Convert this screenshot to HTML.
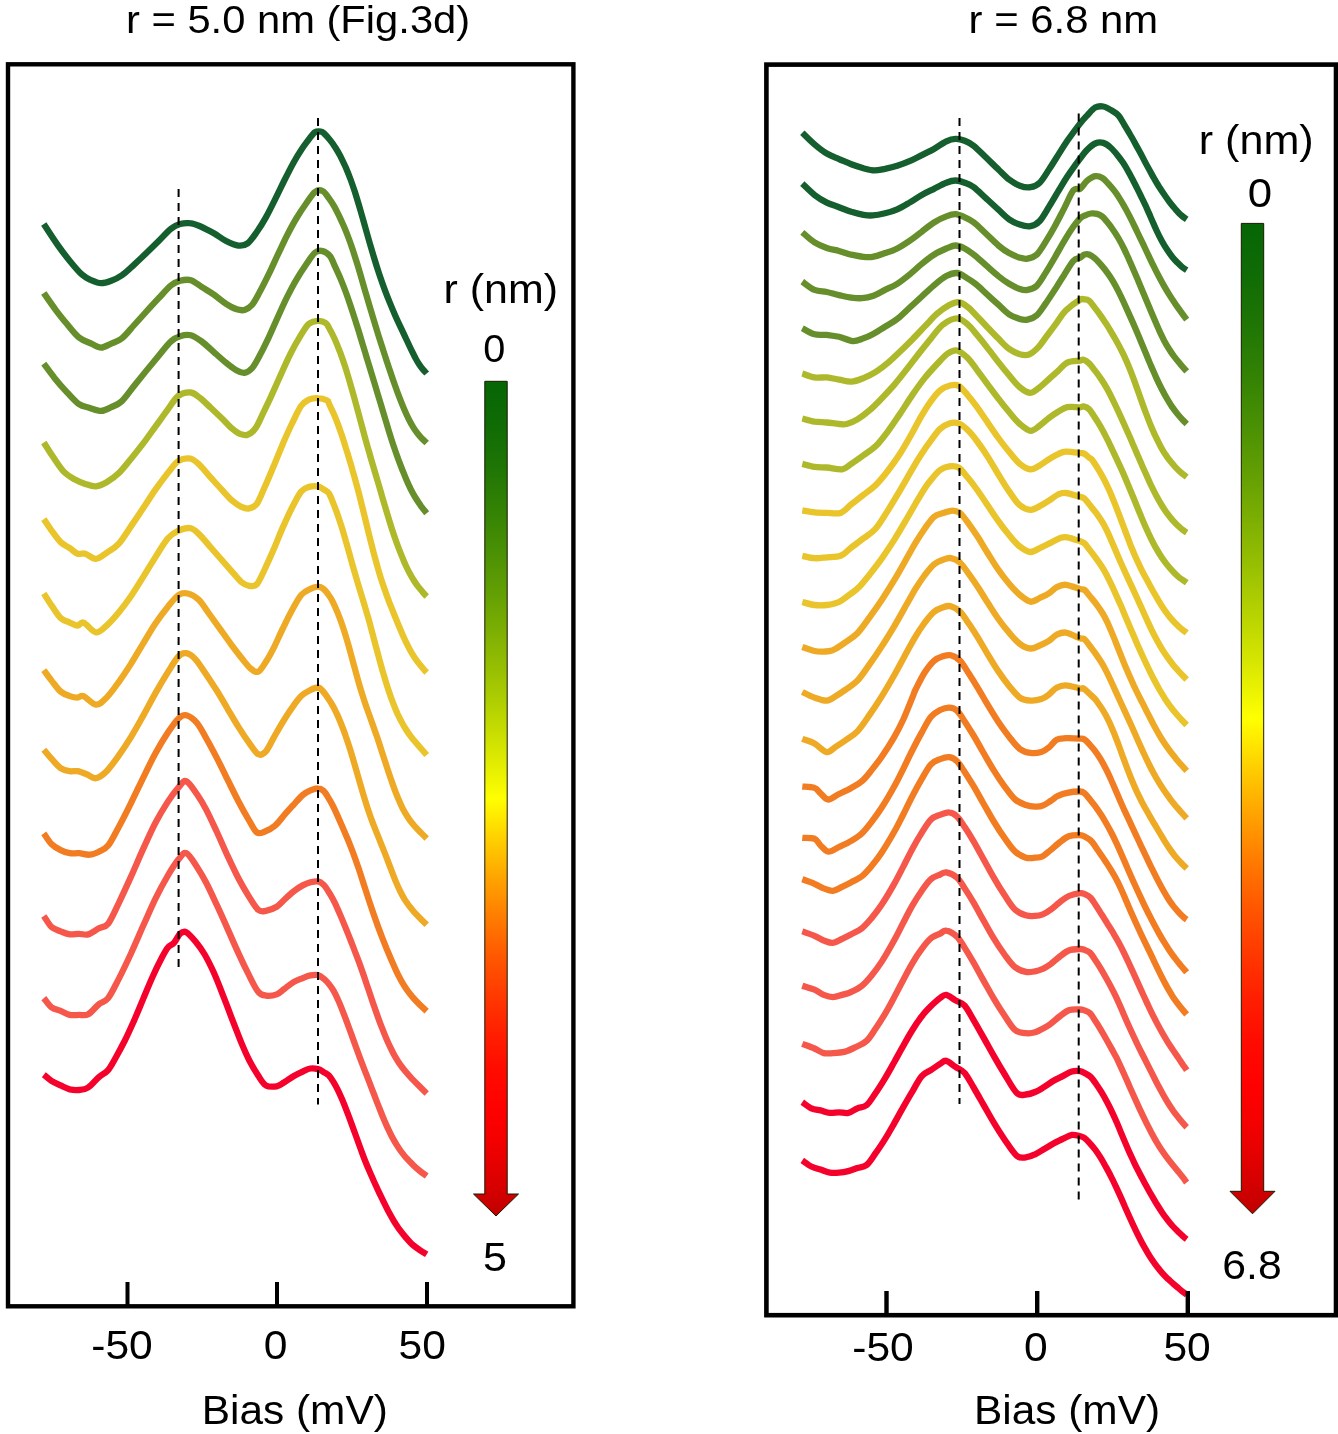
<!DOCTYPE html>
<html lang="en"><head><meta charset="utf-8"><title>dI/dV spectra</title>
<style>html,body{margin:0;padding:0;background:#fff}svg{display:block}</style></head><body>
<svg width="1338" height="1434" viewBox="0 0 1338 1434">
<defs><linearGradient id="cb" x1="0" y1="0" x2="0" y2="1"><stop offset="0.0000" stop-color="#066605"/><stop offset="0.0500" stop-color="#0f6b05"/><stop offset="0.1000" stop-color="#1e7505"/><stop offset="0.1500" stop-color="#318104"/><stop offset="0.2000" stop-color="#488f04"/><stop offset="0.2500" stop-color="#619e03"/><stop offset="0.3000" stop-color="#7daf03"/><stop offset="0.3500" stop-color="#9ac102"/><stop offset="0.4000" stop-color="#bad501"/><stop offset="0.4500" stop-color="#dce901"/><stop offset="0.5000" stop-color="#ffff00"/><stop offset="0.5466" stop-color="#ffd100"/><stop offset="0.5933" stop-color="#ffa600"/><stop offset="0.6399" stop-color="#ff7e00"/><stop offset="0.6865" stop-color="#ff5a00"/><stop offset="0.7331" stop-color="#ff3b00"/><stop offset="0.7797" stop-color="#ff2000"/><stop offset="0.8264" stop-color="#ff0b00"/><stop offset="0.8730" stop-color="#ff0000"/><stop offset="0.9047" stop-color="#f60000"/><stop offset="0.9365" stop-color="#e70000"/><stop offset="0.9683" stop-color="#d50000"/><stop offset="1.0000" stop-color="#c00000"/></linearGradient></defs>
<rect width="1338" height="1434" fill="#fff"/>
<g fill="none" stroke-width="6.3" stroke-linejoin="round" stroke-linecap="butt">
<path d="M43.8 224.1C46.1 227.6 53.2 238.7 57.6 244.9C61.9 251.0 65.7 256.0 69.8 260.9C73.9 265.9 78.5 271.5 82.1 274.7C85.7 277.9 88.1 278.7 91.3 280.2C94.5 281.6 97.8 283.1 101.1 283.2C104.4 283.3 107.7 282.1 111.2 280.8C114.7 279.5 118.1 278.0 121.9 275.3C125.8 272.6 130.1 268.3 134.2 264.6C138.3 260.8 142.4 257.0 146.4 253.1C150.5 249.1 154.6 245.0 158.7 241.0C162.8 236.9 167.4 231.5 171.0 228.7C174.5 225.9 177.1 225.0 180.1 224.1C183.2 223.2 186.0 222.8 189.3 223.2C192.7 223.5 196.0 224.6 200.1 226.2C204.2 227.9 209.5 230.8 213.9 233.3C218.2 235.7 222.0 238.9 226.1 241.0C230.2 243.0 234.8 245.1 238.4 245.6C241.9 246.0 244.5 245.7 247.6 243.4C250.6 241.2 253.7 236.4 256.8 232.0C259.8 227.7 262.9 222.8 265.9 217.4C269.0 211.9 272.1 205.5 275.1 199.4C278.2 193.2 281.3 186.6 284.3 180.5C287.4 174.3 290.7 167.8 293.5 162.7C296.3 157.7 298.6 153.9 301.2 150.0C303.7 146.1 306.6 142.4 308.8 139.4C311.1 136.4 312.9 133.5 315.0 132.2C317.0 130.9 319.5 131.3 321.1 131.6C322.7 131.8 323.0 132.5 324.5 133.9C326.0 135.3 328.1 137.6 329.9 139.9C331.7 142.1 333.5 144.5 335.2 147.3C337.0 150.1 338.8 153.3 340.6 156.6C342.3 160.0 344.0 163.6 345.7 167.3C347.3 171.1 348.9 175.0 350.4 179.0C351.9 183.0 353.3 187.2 354.7 191.3C356.0 195.5 357.3 199.7 358.5 203.8C359.8 207.9 360.9 212.0 362.1 216.1C363.3 220.2 364.4 224.2 365.6 228.5C366.8 232.8 368.0 237.1 369.4 242.0C370.8 246.8 372.4 252.2 374.0 257.5C375.6 262.9 377.4 268.6 379.2 273.9C381.0 279.2 382.8 284.4 384.6 289.3C386.4 294.2 388.2 298.7 390.0 303.1C391.8 307.5 393.5 311.6 395.3 315.7C397.1 319.7 398.9 323.6 400.7 327.4C402.5 331.2 404.3 335.1 406.0 338.7C407.7 342.3 409.4 345.9 410.9 349.0C412.5 352.2 413.8 355.1 415.2 357.6C416.5 360.1 417.8 362.3 419.1 364.3C420.3 366.2 421.6 367.9 422.9 369.4C424.2 370.9 426.1 372.8 426.7 373.5" stroke="#145f2d"/>
<path d="M43.8 293.0C45.8 295.9 52.2 305.2 56.0 310.3C59.9 315.4 62.9 319.3 66.8 323.8C70.6 328.4 74.9 334.2 79.0 337.5C83.1 340.8 87.6 341.9 91.3 343.6C95.0 345.3 97.8 347.6 101.1 347.6C104.4 347.6 107.7 345.1 111.2 343.6C114.7 342.1 118.1 341.5 121.9 338.4C125.8 335.3 130.1 329.5 134.2 325.0C138.3 320.5 142.4 316.0 146.4 311.5C150.5 307.0 154.6 302.6 158.7 298.2C162.8 293.9 167.4 288.3 171.0 285.4C174.5 282.5 176.8 281.7 180.1 280.8C183.5 279.9 187.3 279.2 190.9 280.2C194.4 281.2 197.8 284.5 201.6 286.9C205.4 289.3 209.8 291.8 213.9 294.6C217.9 297.4 222.3 301.3 226.1 303.8C229.9 306.2 233.8 308.3 236.8 309.3C239.9 310.3 241.9 310.7 244.5 309.9C247.1 309.1 249.6 307.7 252.2 304.7C254.7 301.7 257.0 297.0 259.8 291.8C262.6 286.7 265.9 280.1 269.0 273.7C272.1 267.4 275.1 260.4 278.2 253.9C281.3 247.4 284.3 240.7 287.4 234.7C290.5 228.7 293.5 223.1 296.6 218.0C299.7 212.9 302.7 208.3 305.8 204.0C308.8 199.7 312.2 194.1 315.0 191.9C317.8 189.8 320.3 189.9 322.6 191.0C325.0 192.1 327.1 195.9 329.0 198.4C330.9 201.0 332.5 203.4 334.2 206.3C335.8 209.3 337.5 212.7 339.1 215.9C340.6 219.1 342.1 222.4 343.5 225.6C344.9 228.7 346.1 231.6 347.4 234.9C348.7 238.3 349.9 241.5 351.3 245.5C352.6 249.5 354.1 254.0 355.6 258.8C357.2 263.6 358.8 269.0 360.3 274.2C361.8 279.3 363.3 284.6 364.8 289.8C366.3 294.9 367.8 300.1 369.3 305.1C370.8 310.2 372.3 315.3 373.8 320.2C375.3 325.1 376.8 330.0 378.2 334.6C379.7 339.2 381.1 343.6 382.5 348.0C383.9 352.3 385.2 356.4 386.6 360.7C388.0 364.9 389.4 369.2 390.9 373.4C392.3 377.7 393.8 382.0 395.3 386.2C396.8 390.4 398.3 394.5 399.8 398.4C401.3 402.3 402.8 406.1 404.3 409.5C405.8 413.0 407.3 416.3 408.8 419.2C410.3 422.2 411.8 424.9 413.3 427.3C414.8 429.7 416.3 431.8 417.8 433.7C419.3 435.6 420.7 437.2 422.2 438.8C423.7 440.3 426.0 442.3 426.7 443.0" stroke="#668f2c"/>
<path d="M43.8 363.7C45.6 366.1 50.7 373.2 54.5 377.9C58.3 382.7 62.7 387.7 66.8 392.1C70.9 396.4 75.2 401.6 79.0 404.2C82.9 406.8 86.1 406.7 89.8 407.9C93.4 409.0 97.5 411.0 101.1 410.9C104.7 410.8 107.7 408.9 111.2 407.2C114.7 405.6 118.1 404.7 121.9 401.1C125.8 397.5 130.1 390.9 134.2 385.8C138.3 380.7 142.4 375.6 146.4 370.6C150.5 365.6 154.6 360.6 158.7 355.7C162.8 350.9 167.4 344.6 171.0 341.4C174.5 338.1 176.8 337.2 180.1 336.2C183.5 335.1 187.3 334.4 190.9 335.2C194.4 336.1 197.8 338.6 201.6 341.4C205.4 344.2 209.8 348.5 213.9 352.1C217.9 355.7 222.3 359.8 226.1 362.8C229.9 365.9 233.8 368.8 236.8 370.5C239.9 372.2 241.9 373.3 244.5 372.9C247.1 372.5 249.6 371.0 252.2 368.0C254.7 365.1 257.0 360.5 259.8 355.3C262.6 350.1 265.9 343.3 269.0 336.8C272.1 330.3 275.1 323.0 278.2 316.2C281.3 309.5 284.3 302.5 287.4 296.4C290.5 290.2 293.5 284.5 296.6 279.3C299.7 274.1 302.7 269.5 305.8 265.0C308.8 260.6 312.2 254.9 315.0 252.6C317.8 250.3 320.2 250.5 322.6 251.1C325.1 251.7 327.8 253.5 329.9 256.1C332.0 258.7 333.5 263.2 335.2 266.9C336.9 270.5 338.6 274.3 340.3 278.1C341.9 282.0 343.5 285.9 345.0 290.0C346.6 294.2 348.1 298.4 349.6 302.9C351.1 307.3 352.6 311.9 354.1 316.6C355.6 321.2 357.1 326.0 358.6 330.8C360.0 335.6 361.5 340.4 362.9 345.2C364.4 349.9 365.8 354.7 367.2 359.4C368.7 364.1 370.1 368.8 371.5 373.4C372.9 377.9 374.2 382.4 375.6 386.9C376.9 391.4 378.2 395.7 379.6 400.1C380.9 404.4 382.1 408.7 383.4 412.9C384.6 417.0 385.9 421.1 387.1 425.1C388.2 429.0 389.4 432.8 390.6 436.6C391.8 440.4 393.0 444.2 394.3 447.9C395.5 451.6 396.9 455.4 398.2 459.0C399.6 462.7 400.9 466.3 402.3 469.7C403.7 473.2 405.0 476.5 406.4 479.8C407.8 483.0 409.2 486.1 410.7 489.2C412.2 492.2 413.8 495.1 415.5 497.8C417.2 500.6 419.0 503.2 420.8 505.8C422.7 508.3 425.7 512.0 426.7 513.2" stroke="#668f2c"/>
<path d="M43.8 442.5C45.3 444.9 49.7 451.9 53.0 456.8C56.3 461.6 60.1 467.9 63.7 471.6C67.3 475.3 70.9 477.2 74.4 479.3C78.0 481.3 81.6 482.7 85.2 483.9C88.7 485.0 92.3 486.6 95.9 486.3C99.5 486.1 102.8 484.5 106.6 482.3C110.4 480.1 114.8 477.1 118.9 473.1C122.9 469.2 127.0 463.7 131.1 458.7C135.2 453.7 139.3 448.6 143.4 443.2C147.5 437.8 151.5 431.9 155.6 426.3C159.7 420.7 164.1 414.5 167.9 409.4C171.7 404.3 174.8 398.4 178.6 395.6C182.4 392.8 187.3 392.1 190.9 392.5C194.4 392.9 196.7 395.5 200.1 398.1C203.4 400.6 207.2 404.5 210.8 407.8C214.4 411.2 217.9 414.6 221.5 418.1C225.1 421.5 229.2 426.1 232.2 428.7C235.3 431.3 237.3 432.9 239.9 433.9C242.5 434.9 245.0 435.7 247.6 434.8C250.1 434.0 252.7 432.2 255.2 428.7C257.8 425.2 260.1 419.4 262.9 413.7C265.7 407.9 269.0 400.9 272.1 394.2C275.1 387.6 278.2 380.4 281.3 373.6C284.3 366.9 287.4 359.9 290.5 353.8C293.5 347.7 296.6 342.1 299.7 337.1C302.7 332.1 305.8 326.6 308.8 323.9C311.9 321.2 315.2 321.0 318.0 320.8C320.9 320.7 323.7 321.5 325.7 323.0C327.7 324.4 328.5 327.1 329.9 329.5C331.3 332.0 332.7 334.7 334.0 337.5C335.3 340.3 336.6 343.3 337.7 346.2C338.9 349.0 339.9 351.7 341.0 354.6C342.0 357.5 343.0 360.3 344.1 363.6C345.2 366.9 346.4 370.6 347.6 374.6C348.8 378.6 350.1 383.0 351.3 387.3C352.6 391.6 353.8 396.1 355.0 400.5C356.2 404.9 357.4 409.4 358.6 413.8C359.8 418.3 361.0 422.7 362.2 427.1C363.4 431.5 364.5 435.8 365.7 440.1C366.9 444.5 368.1 448.6 369.4 453.0C370.6 457.4 371.9 461.8 373.3 466.5C374.7 471.3 376.2 476.4 377.8 481.6C379.3 486.8 381.0 492.5 382.5 497.8C384.1 503.2 385.7 508.6 387.2 513.7C388.8 518.8 390.2 523.6 391.7 528.3C393.2 532.9 394.7 537.3 396.2 541.5C397.7 545.7 399.2 549.7 400.7 553.4C402.2 557.2 403.7 560.7 405.1 564.0C406.6 567.2 408.0 570.2 409.5 572.9C410.9 575.7 412.4 578.2 413.9 580.5C415.3 582.8 416.9 585.0 418.4 586.9C419.9 588.8 421.4 590.5 422.7 592.1C424.1 593.7 426.0 595.8 426.7 596.5" stroke="#adb92b"/>
<path d="M43.8 519.1C45.1 521.0 48.6 526.5 51.4 530.4C54.3 534.2 57.6 539.1 60.6 542.1C63.7 545.0 67.0 546.3 69.8 548.2C72.6 550.1 74.9 552.8 77.5 553.7C80.0 554.6 82.1 552.9 85.2 553.7C88.2 554.6 92.3 559.1 95.9 558.9C99.5 558.8 102.8 555.4 106.6 552.8C110.4 550.2 114.8 548.1 118.9 543.6C122.9 539.2 127.0 532.1 131.1 526.1C135.2 520.1 139.3 513.9 143.4 507.8C147.5 501.7 151.5 495.2 155.6 489.4C159.7 483.6 164.1 477.7 167.9 472.9C171.7 468.2 174.8 463.2 178.6 460.9C182.4 458.5 187.3 458.0 190.9 458.7C194.4 459.5 196.7 462.3 200.1 465.5C203.4 468.6 207.2 473.6 210.8 477.6C214.4 481.6 217.9 485.6 221.5 489.4C225.1 493.3 228.9 497.8 232.2 500.7C235.6 503.6 238.6 505.6 241.4 506.8C244.2 508.1 246.5 508.9 249.1 508.4C251.6 507.9 254.2 507.2 256.8 503.8C259.3 500.3 261.6 494.0 264.4 487.7C267.2 481.5 270.5 473.6 273.6 466.3C276.7 459.0 279.7 451.0 282.8 443.9C285.9 436.8 288.9 429.9 292.0 423.5C295.1 417.2 298.4 409.7 301.2 405.7C304.0 401.7 306.0 400.9 308.8 399.6C311.7 398.3 315.0 397.9 318.0 398.1C321.1 398.2 325.4 399.6 327.2 400.5C329.1 401.4 328.0 401.5 329.0 403.7C330.0 405.8 332.0 409.8 333.5 413.2C335.0 416.6 336.5 420.3 337.9 424.1C339.3 427.9 340.7 432.0 342.1 436.0C343.4 440.0 344.7 444.1 345.9 448.1C347.2 452.1 348.4 456.0 349.5 459.9C350.7 463.8 351.8 467.5 352.9 471.6C354.1 475.6 355.2 479.6 356.4 484.2C357.7 488.7 359.0 493.8 360.3 499.0C361.6 504.2 363.0 510.0 364.4 515.5C365.7 521.0 367.1 526.7 368.4 532.1C369.8 537.6 371.1 543.0 372.5 548.2C373.8 553.4 375.2 558.5 376.5 563.3C377.8 568.1 379.2 572.7 380.5 577.1C381.9 581.5 383.2 585.5 384.7 589.6C386.1 593.8 387.6 597.7 389.1 601.8C390.7 605.8 392.4 610.0 394.0 614.0C395.6 618.0 397.2 622.0 398.8 625.8C400.4 629.5 401.9 633.1 403.4 636.5C404.9 639.9 406.4 643.1 408.0 646.1C409.5 649.1 411.1 652.0 412.7 654.6C414.3 657.1 415.9 659.5 417.5 661.7C419.1 663.8 420.6 665.7 422.2 667.5C423.7 669.3 425.9 671.8 426.7 672.6" stroke="#e9c42a"/>
<path d="M43.8 593.5C45.1 595.4 48.6 601.2 51.4 605.3C54.3 609.4 57.6 615.1 60.6 618.0C63.7 620.9 67.0 621.3 69.8 622.6C72.6 623.8 75.2 625.6 77.5 625.6C79.8 625.6 80.6 621.4 83.6 622.6C86.7 623.7 92.1 631.9 95.9 632.4C99.7 632.9 102.8 629.0 106.6 625.6C110.4 622.3 114.8 617.3 118.9 612.3C122.9 607.4 127.0 601.9 131.1 596.0C135.2 590.0 139.3 583.1 143.4 576.6C147.5 570.1 151.5 563.3 155.6 556.9C159.7 550.5 164.1 542.7 167.9 538.3C171.7 533.9 174.8 532.3 178.6 530.6C182.4 529.0 187.3 527.4 190.9 528.2C194.4 529.0 196.7 532.0 200.1 535.2C203.4 538.5 207.2 543.4 210.8 547.5C214.4 551.6 217.9 555.7 221.5 559.7C225.1 563.8 228.9 568.1 232.2 571.9C235.6 575.6 238.6 579.8 241.4 582.1C244.2 584.4 246.5 585.4 249.1 585.8C251.6 586.2 254.2 586.9 256.8 584.3C259.3 581.6 261.6 575.8 264.4 570.0C267.2 564.2 270.5 556.7 273.6 549.6C276.7 542.5 279.7 534.4 282.8 527.4C285.9 520.4 288.9 513.7 292.0 507.7C295.1 501.7 298.4 495.0 301.2 491.5C304.0 488.1 306.0 487.8 308.8 486.9C311.7 486.1 315.6 485.9 318.0 486.3C320.5 486.7 321.8 488.2 323.6 489.4C325.4 490.6 327.4 491.1 329.0 493.5C330.6 495.9 332.0 500.2 333.5 503.9C335.0 507.5 336.5 511.4 337.9 515.5C339.3 519.6 340.7 524.0 342.1 528.3C343.4 532.6 344.7 537.0 345.9 541.4C347.2 545.7 348.4 550.1 349.6 554.4C350.8 558.7 352.0 563.1 353.2 567.3C354.4 571.5 355.6 575.6 356.8 579.6C357.9 583.6 359.1 587.3 360.3 591.3C361.5 595.3 362.7 599.1 364.0 603.5C365.3 607.9 366.8 612.8 368.2 617.7C369.6 622.6 371.0 628.0 372.4 633.2C373.8 638.4 375.1 643.6 376.5 648.7C377.9 653.8 379.2 658.9 380.6 663.8C381.9 668.7 383.3 673.6 384.8 678.3C386.2 683.0 387.6 687.7 389.1 691.9C390.5 696.2 392.0 700.3 393.4 703.9C394.8 707.5 396.1 710.7 397.4 713.6C398.8 716.5 399.9 718.9 401.3 721.4C402.6 723.9 403.9 726.2 405.4 728.5C406.8 730.8 408.4 733.1 410.0 735.3C411.7 737.6 413.4 739.7 415.2 741.8C417.0 744.0 418.8 746.1 420.8 748.3C422.7 750.5 425.7 753.9 426.7 755.0" stroke="#e9c42a"/>
<path d="M43.8 670.1C45.1 671.8 48.6 676.9 51.4 680.4C54.3 684.0 57.6 688.9 60.6 691.5C63.7 694.1 67.0 695.1 69.8 696.1C72.6 697.1 75.2 697.6 77.5 697.6C79.8 697.6 80.6 694.9 83.6 696.1C86.7 697.3 92.1 704.4 95.9 704.7C99.7 704.9 102.8 701.5 106.6 697.6C110.4 693.8 114.8 687.5 118.9 681.8C122.9 676.2 127.0 670.0 131.1 663.6C135.2 657.1 139.3 649.8 143.4 643.1C147.5 636.3 151.5 629.3 155.6 623.2C159.7 617.2 164.1 611.4 167.9 606.7C171.7 602.0 175.3 597.2 178.6 595.0C181.9 592.8 184.5 592.7 187.8 593.5C191.1 594.2 195.0 596.2 198.5 599.6C202.1 603.0 205.7 609.1 209.3 614.0C212.8 618.8 216.4 623.8 220.0 628.8C223.6 633.8 227.1 638.9 230.7 643.8C234.3 648.6 238.1 653.6 241.4 657.8C244.8 661.9 247.8 666.2 250.6 668.5C253.4 670.8 255.7 672.7 258.3 671.6C260.8 670.5 263.4 665.7 265.9 661.8C268.5 657.9 270.8 653.7 273.6 648.1C276.4 642.6 279.7 634.8 282.8 628.5C285.9 622.2 288.9 615.9 292.0 610.3C295.1 604.7 298.1 598.6 301.2 595.0C304.3 591.4 307.6 590.2 310.4 588.9C313.2 587.5 315.8 586.7 318.0 586.7C320.2 586.7 321.8 587.5 323.6 589.0C325.4 590.5 327.6 593.5 329.0 595.5C330.4 597.4 330.9 598.1 332.3 600.9C333.7 603.7 335.8 608.3 337.5 612.4C339.2 616.5 340.8 620.8 342.3 625.3C343.8 629.7 345.3 634.4 346.7 639.2C348.2 644.0 349.5 649.1 350.9 654.1C352.3 659.1 353.6 664.3 355.0 669.2C356.3 674.1 357.7 679.0 359.0 683.6C360.3 688.3 361.7 692.6 363.1 696.9C364.4 701.2 365.8 705.2 367.3 709.5C368.8 713.7 370.4 718.0 372.0 722.6C373.6 727.1 375.3 732.0 377.0 736.8C378.6 741.6 380.2 746.6 381.8 751.4C383.4 756.2 384.9 761.0 386.4 765.6C387.9 770.2 389.4 774.7 390.9 779.0C392.4 783.3 393.8 787.5 395.3 791.4C396.8 795.3 398.3 799.0 399.9 802.4C401.4 805.9 403.0 809.1 404.6 812.0C406.3 815.0 408.0 817.6 409.8 820.1C411.5 822.5 413.3 824.6 415.1 826.7C417.0 828.8 418.8 830.7 420.8 832.6C422.7 834.6 425.7 837.4 426.7 838.4" stroke="#eeaa25"/>
<path d="M43.8 749.7C45.1 751.2 48.6 755.6 51.4 758.7C54.3 761.8 57.6 766.0 60.6 768.1C63.7 770.2 67.0 770.7 69.8 771.2C72.6 771.7 74.7 770.7 77.5 771.2C80.3 771.7 83.6 773.1 86.7 774.3C89.8 775.4 92.6 778.7 95.9 778.2C99.2 777.7 102.8 775.0 106.6 771.2C110.4 767.4 114.8 761.1 118.9 755.4C122.9 749.7 127.0 743.6 131.1 736.9C135.2 730.2 139.3 722.7 143.4 715.4C147.5 708.0 151.5 700.1 155.6 692.9C159.7 685.7 164.1 678.3 167.9 672.2C171.7 666.1 175.6 659.4 178.6 656.3C181.7 653.1 183.5 652.7 186.3 653.2C189.1 653.7 192.2 655.8 195.5 659.3C198.8 662.9 202.6 669.1 206.2 674.4C209.8 679.6 213.3 685.1 216.9 690.8C220.5 696.6 224.1 702.8 227.6 708.8C231.2 714.9 234.8 721.2 238.4 726.9C241.9 732.5 245.8 738.3 249.1 742.8C252.4 747.4 255.5 752.9 258.3 754.3C261.1 755.7 263.4 754.0 265.9 751.3C268.5 748.5 270.8 742.8 273.6 737.9C276.4 733.0 279.7 727.0 282.8 722.0C285.9 716.9 288.9 712.1 292.0 707.8C295.1 703.5 298.1 699.1 301.2 696.1C304.3 693.1 307.6 691.4 310.4 690.0C313.2 688.6 316.0 687.4 318.0 687.5C320.1 687.7 321.2 689.4 322.7 691.0C324.2 692.6 325.7 694.7 327.2 696.9C328.7 699.0 330.2 701.3 331.7 703.9C333.2 706.5 334.7 709.3 336.2 712.5C337.8 715.7 339.3 719.3 340.9 723.2C342.5 727.1 344.2 731.5 345.7 736.1C347.3 740.6 348.9 745.5 350.4 750.3C351.9 755.2 353.4 760.2 354.8 765.1C356.2 769.9 357.6 774.8 359.0 779.6C360.3 784.3 361.7 789.0 363.0 793.5C364.4 798.1 365.7 802.5 367.1 806.7C368.5 810.9 369.8 814.9 371.3 818.9C372.7 822.9 374.2 826.7 375.8 830.6C377.4 834.6 379.1 838.6 380.7 842.8C382.4 847.0 384.2 851.5 385.9 855.8C387.6 860.1 389.2 864.6 390.8 868.7C392.3 872.8 393.8 876.7 395.3 880.4C396.8 884.0 398.3 887.4 399.9 890.6C401.4 893.8 403.0 896.7 404.6 899.4C406.3 902.0 408.0 904.5 409.8 906.7C411.5 909.0 413.3 911.1 415.1 913.1C417.0 915.1 418.8 917.0 420.8 919.0C422.7 920.9 425.7 923.8 426.7 924.8" stroke="#eeaa25"/>
<path d="M43.8 833.3C45.1 835.1 48.6 841.2 51.4 844.0C54.3 846.8 57.6 848.6 60.6 850.1C63.7 851.7 66.8 852.7 69.8 853.2C72.9 853.7 75.7 853.0 79.0 853.2C82.3 853.5 86.4 855.0 89.8 854.7C93.1 854.5 95.9 853.2 98.9 851.7C102.0 850.1 104.8 849.7 108.1 845.6C111.5 841.4 115.0 833.8 118.9 826.7C122.7 819.6 127.0 811.1 131.1 802.8C135.2 794.6 139.3 785.6 143.4 777.3C147.5 769.0 151.5 760.4 155.6 752.9C159.7 745.5 164.1 738.4 167.9 732.6C171.7 726.8 175.6 721.3 178.6 718.4C181.7 715.5 183.2 714.6 186.3 715.3C189.3 716.1 193.7 719.2 197.0 723.0C200.3 726.8 202.9 732.4 206.2 738.3C209.5 744.1 213.3 751.2 216.9 758.1C220.5 765.0 224.1 772.5 227.6 779.7C231.2 786.9 234.8 794.4 238.4 801.2C241.9 808.0 246.0 815.3 249.1 820.5C252.2 825.7 254.2 830.5 256.8 832.4C259.3 834.3 261.4 832.9 264.4 831.8C267.5 830.6 271.8 828.4 275.1 825.6C278.5 822.8 281.3 818.5 284.3 815.0C287.4 811.5 290.5 808.1 293.5 804.8C296.6 801.4 299.9 797.4 302.7 795.0C305.5 792.6 307.8 791.5 310.4 790.4C312.9 789.3 315.8 788.2 318.0 788.3C320.2 788.3 321.9 789.4 323.6 790.9C325.3 792.4 326.6 795.0 328.1 797.4C329.6 799.8 331.1 802.4 332.6 805.3C334.1 808.2 335.6 811.5 337.0 814.6C338.5 817.8 340.0 821.3 341.4 824.5C342.8 827.7 344.1 830.8 345.5 834.1C347.0 837.4 348.3 840.5 349.8 844.3C351.3 848.1 353.0 852.3 354.5 856.7C356.1 861.1 357.8 866.0 359.4 870.6C360.9 875.3 362.4 880.0 363.9 884.7C365.4 889.3 366.9 894.0 368.4 898.6C369.9 903.1 371.4 907.7 372.9 912.1C374.4 916.5 375.9 920.7 377.4 924.9C378.9 929.0 380.4 933.0 381.9 936.9C383.5 940.9 385.1 944.8 386.6 948.7C388.2 952.5 389.9 956.4 391.4 960.1C393.0 963.8 394.6 967.4 396.2 970.8C397.8 974.2 399.4 977.4 401.1 980.5C402.8 983.6 404.6 986.5 406.5 989.3C408.4 992.0 410.4 994.6 412.6 997.1C414.7 999.6 417.0 1001.9 419.3 1004.2C421.7 1006.6 425.5 1010.0 426.7 1011.1" stroke="#f27c22"/>
<path d="M43.8 916.0C45.1 917.8 48.6 924.2 51.4 926.8C54.3 929.3 57.6 930.1 60.6 931.4C63.7 932.6 66.8 934.0 69.8 934.4C72.9 934.8 76.0 933.8 79.0 933.8C82.1 933.8 84.9 935.3 88.2 934.4C91.5 933.5 95.6 930.1 98.9 928.3C102.3 926.5 104.8 927.9 108.1 923.7C111.5 919.4 115.0 910.7 118.9 902.8C122.7 894.9 127.0 885.5 131.1 876.4C135.2 867.3 139.3 857.4 143.4 848.4C147.5 839.5 151.5 830.3 155.6 822.5C159.7 814.7 164.1 807.5 167.9 801.6C171.7 795.8 175.6 790.7 178.6 787.3C181.7 783.9 183.2 780.0 186.3 781.2C189.3 782.4 193.7 789.6 197.0 794.3C200.3 799.1 202.9 803.3 206.2 809.6C209.5 815.9 213.3 824.3 216.9 832.0C220.5 839.8 224.1 848.2 227.6 855.9C231.2 863.6 234.8 871.3 238.4 878.2C241.9 885.0 245.8 891.5 249.1 896.8C252.4 902.1 255.5 907.6 258.3 909.9C261.1 912.2 262.9 911.3 265.9 910.8C269.0 910.3 273.6 908.7 276.7 906.8C279.7 905.0 281.5 902.3 284.3 899.7C287.1 897.1 290.5 893.9 293.5 891.5C296.6 889.1 299.9 886.9 302.7 885.4C305.5 883.9 307.8 883.0 310.4 882.3C312.9 881.7 315.8 881.0 318.0 881.4C320.2 881.8 321.9 883.2 323.6 884.8C325.3 886.4 326.6 888.7 328.1 891.0C329.6 893.3 331.1 895.8 332.6 898.5C334.1 901.3 335.6 904.3 337.0 907.6C338.5 910.8 340.0 914.3 341.5 917.9C343.0 921.4 344.5 925.2 346.0 928.8C347.5 932.5 349.0 936.3 350.5 940.0C351.9 943.7 353.4 947.3 354.8 951.1C356.3 954.9 357.7 958.6 359.2 962.7C360.7 966.8 362.2 971.2 363.8 975.6C365.3 980.0 366.8 984.7 368.4 989.2C369.9 993.7 371.4 998.3 372.9 1002.7C374.4 1007.1 375.9 1011.4 377.4 1015.6C378.9 1019.8 380.4 1023.9 381.9 1027.7C383.4 1031.6 384.9 1035.3 386.4 1038.7C387.9 1042.2 389.4 1045.5 390.9 1048.5C392.4 1051.6 393.8 1054.4 395.4 1057.1C396.9 1059.7 398.5 1062.2 400.2 1064.6C402.0 1067.1 403.8 1069.4 405.8 1071.8C407.8 1074.2 409.9 1076.5 412.1 1078.9C414.4 1081.3 416.8 1083.7 419.2 1086.1C421.6 1088.6 425.4 1092.3 426.7 1093.5" stroke="#f5584a"/>
<path d="M43.8 998.1C45.1 999.6 48.6 1005.1 51.4 1007.2C54.3 1009.4 57.6 1009.6 60.6 1010.9C63.7 1012.2 66.8 1014.2 69.8 1014.9C72.9 1015.6 76.0 1015.0 79.0 1014.9C82.1 1014.8 84.9 1016.1 88.2 1014.3C91.5 1012.5 95.6 1006.9 98.9 1004.2C102.3 1001.5 104.8 1002.3 108.1 998.1C111.5 993.8 115.0 986.0 118.9 978.6C122.7 971.1 127.0 962.1 131.1 953.2C135.2 944.3 139.3 934.5 143.4 925.3C147.5 916.2 151.5 906.6 155.6 898.3C159.7 890.0 164.1 882.0 167.9 875.5C171.7 869.0 175.6 863.1 178.6 859.3C181.7 855.6 183.2 851.9 186.3 853.2C189.3 854.5 193.7 862.0 197.0 866.9C200.3 871.9 202.9 876.4 206.2 882.8C209.5 889.1 213.3 897.5 216.9 905.2C220.5 912.9 224.1 921.0 227.6 928.9C231.2 936.9 234.8 945.3 238.4 953.1C241.9 960.8 245.8 968.9 249.1 975.4C252.4 981.9 255.5 988.6 258.3 991.9C261.1 995.3 262.9 995.2 265.9 995.6C269.0 996.0 273.6 995.5 276.7 994.4C279.7 993.3 281.5 990.9 284.3 988.9C287.1 986.8 290.5 983.9 293.5 982.1C296.6 980.3 299.9 979.3 302.7 978.1C305.5 977.0 307.8 975.9 310.4 975.4C312.9 974.9 315.7 974.4 318.0 975.1C320.4 975.7 322.7 977.8 324.5 979.3C326.3 980.8 327.5 982.2 329.0 984.1C330.5 986.0 332.0 988.1 333.5 990.6C335.0 993.2 336.5 996.2 337.9 999.5C339.4 1002.7 340.9 1006.5 342.4 1010.3C343.9 1014.0 345.4 1018.1 346.9 1022.1C348.4 1026.2 349.9 1030.3 351.4 1034.4C352.9 1038.6 354.4 1042.8 355.9 1046.8C357.4 1050.9 358.9 1054.9 360.3 1058.8C361.8 1062.7 363.2 1066.4 364.7 1070.3C366.2 1074.1 367.6 1077.8 369.1 1081.6C370.6 1085.5 372.1 1089.5 373.7 1093.5C375.2 1097.4 376.7 1101.5 378.3 1105.4C379.8 1109.2 381.3 1113.1 382.8 1116.7C384.3 1120.3 385.8 1123.8 387.3 1127.1C388.8 1130.3 390.2 1133.4 391.7 1136.3C393.2 1139.1 394.7 1141.8 396.3 1144.3C397.8 1146.9 399.4 1149.2 401.1 1151.5C402.8 1153.8 404.6 1156.0 406.5 1158.2C408.4 1160.3 410.4 1162.3 412.6 1164.4C414.7 1166.5 417.0 1168.6 419.3 1170.5C421.7 1172.5 425.5 1175.1 426.7 1176.0" stroke="#f5584a"/>
<path d="M43.8 1074.7C45.1 1075.7 48.6 1079.0 51.4 1080.8C54.3 1082.6 57.6 1084.0 60.6 1085.4C63.7 1086.8 66.8 1088.6 69.8 1089.4C72.9 1090.1 76.0 1090.3 79.0 1090.0C82.1 1089.7 84.9 1089.7 88.2 1087.5C91.5 1085.4 95.6 1080.0 98.9 1077.1C102.3 1074.2 105.3 1073.3 108.1 1070.1C110.9 1066.8 113.0 1062.4 115.8 1057.5C118.6 1052.5 121.9 1046.4 125.0 1040.3C128.1 1034.1 131.1 1027.3 134.2 1020.4C137.2 1013.4 140.3 1005.7 143.4 998.4C146.4 991.2 149.5 983.5 152.6 976.7C155.6 970.0 159.2 962.7 161.8 957.8C164.3 953.0 165.8 950.0 167.9 947.5C169.9 945.0 172.0 945.2 174.0 942.9C176.1 940.6 178.1 935.5 180.1 933.7C182.2 931.9 183.7 930.9 186.3 932.2C188.8 933.5 192.4 937.8 195.5 941.6C198.5 945.3 201.6 949.3 204.7 954.5C207.7 959.7 210.8 966.0 213.9 972.8C216.9 979.6 220.0 987.5 223.0 995.3C226.1 1003.0 229.2 1011.4 232.2 1019.4C235.3 1027.3 238.6 1036.1 241.4 1042.9C244.2 1049.6 246.3 1054.5 249.1 1060.0C251.9 1065.5 255.5 1071.5 258.3 1075.8C261.1 1080.0 262.9 1083.6 265.9 1085.4C269.0 1087.1 273.6 1086.8 276.7 1086.3C279.7 1085.8 281.5 1084.0 284.3 1082.3C287.1 1080.6 290.5 1078.0 293.5 1076.2C296.6 1074.4 299.9 1072.9 302.7 1071.6C305.5 1070.3 307.8 1068.9 310.4 1068.5C312.9 1068.1 315.7 1068.5 318.0 1069.1C320.4 1069.8 322.7 1071.5 324.5 1072.6C326.3 1073.7 327.5 1074.1 329.0 1075.7C330.5 1077.3 331.9 1079.5 333.4 1081.9C334.9 1084.3 336.4 1087.1 337.9 1090.1C339.4 1093.1 340.9 1096.6 342.4 1100.1C343.9 1103.7 345.4 1107.5 346.9 1111.4C348.4 1115.2 349.9 1119.3 351.4 1123.4C352.9 1127.5 354.4 1131.7 355.9 1135.8C357.4 1140.0 358.9 1144.1 360.4 1148.2C361.9 1152.2 363.3 1156.2 364.8 1160.0C366.3 1163.8 367.8 1167.4 369.4 1171.1C370.9 1174.7 372.5 1178.2 374.1 1181.7C375.7 1185.2 377.3 1188.7 378.9 1192.1C380.5 1195.4 382.1 1198.8 383.7 1202.0C385.3 1205.3 386.8 1208.4 388.5 1211.6C390.2 1214.7 391.9 1217.8 393.6 1220.7C395.4 1223.7 397.3 1226.5 399.2 1229.2C401.2 1231.9 403.2 1234.4 405.3 1236.9C407.4 1239.3 409.6 1242.0 411.9 1244.1C414.2 1246.2 416.6 1247.8 419.1 1249.6C421.5 1251.3 425.4 1253.6 426.7 1254.4" stroke="#f5022c"/>
<path d="M802.3 132.7C804.3 134.6 810.4 140.9 814.5 144.3C818.6 147.8 822.7 151.1 826.8 153.5C830.9 156.0 834.9 157.3 839.0 159.1C843.1 160.8 847.2 162.7 851.3 164.3C855.4 165.8 859.7 167.2 863.5 168.3C867.4 169.3 870.7 170.3 874.3 170.4C877.8 170.5 881.2 169.6 885.0 168.9C888.8 168.1 893.2 167.1 897.2 165.8C901.3 164.5 905.4 163.0 909.5 161.2C913.6 159.4 917.7 157.1 921.8 155.1C925.8 153.0 929.9 151.2 934.0 148.9C938.1 146.6 942.7 143.0 946.3 141.3C949.9 139.6 952.4 138.9 955.5 138.8C958.5 138.7 961.6 139.5 964.7 140.7C967.7 141.8 970.3 143.1 973.9 145.9C977.4 148.7 982.0 153.6 986.1 157.6C990.2 161.5 994.5 165.8 998.4 169.4C1002.2 173.1 1005.5 176.9 1009.1 179.6C1012.7 182.3 1016.2 184.4 1019.8 185.7C1023.4 187.0 1027.2 187.8 1030.5 187.2C1033.9 186.7 1036.7 185.6 1039.7 182.7C1042.8 179.7 1045.9 174.2 1048.9 169.6C1052.0 165.0 1055.1 159.9 1058.1 155.1C1061.2 150.3 1063.7 146.1 1067.3 140.8C1071.0 135.6 1076.7 127.8 1080.0 123.6C1083.3 119.4 1084.7 118.1 1087.2 115.4C1089.7 112.8 1092.5 109.1 1095.2 107.6C1097.9 106.1 1100.6 106.0 1103.3 106.5C1106.0 107.0 1108.9 108.8 1111.4 110.3C1114.0 111.8 1116.4 113.2 1118.6 115.7C1120.8 118.2 1122.6 121.9 1124.5 125.1C1126.4 128.2 1128.3 131.3 1130.1 134.5C1132.0 137.7 1133.8 140.9 1135.5 144.1C1137.3 147.3 1139.0 150.5 1140.7 153.6C1142.3 156.7 1143.9 159.7 1145.4 162.6C1147.0 165.5 1148.5 168.3 1150.0 171.1C1151.5 173.8 1152.9 176.5 1154.5 179.1C1156.0 181.8 1157.6 184.4 1159.2 187.0C1160.9 189.6 1162.6 192.2 1164.4 194.8C1166.1 197.3 1167.9 199.9 1169.7 202.2C1171.5 204.5 1173.3 206.7 1175.1 208.8C1177.0 210.9 1178.8 213.2 1180.8 214.9C1182.7 216.7 1185.7 218.6 1186.7 219.3" stroke="#145f2d"/>
<path d="M802.3 183.6C804.3 185.5 810.4 191.7 814.5 194.9C818.6 198.1 822.7 200.5 826.8 202.6C830.9 204.6 834.9 205.6 839.0 207.2C843.1 208.7 847.2 210.5 851.3 211.8C855.4 213.0 860.0 214.2 863.5 214.8C867.1 215.4 869.2 215.7 872.7 215.4C876.3 215.2 880.9 214.3 885.0 213.3C889.1 212.3 893.2 211.1 897.2 209.3C901.3 207.5 905.4 205.0 909.5 202.6C913.6 200.2 917.7 197.2 921.8 194.9C925.8 192.6 929.9 190.8 934.0 188.8C938.1 186.7 942.7 184.0 946.3 182.7C949.9 181.3 952.4 180.5 955.5 180.5C958.5 180.5 961.6 181.5 964.7 182.7C967.7 183.8 970.3 184.6 973.9 187.2C977.4 189.9 982.0 194.7 986.1 198.4C990.2 202.2 994.5 206.2 998.4 209.7C1002.2 213.2 1005.5 216.9 1009.1 219.4C1012.7 221.9 1016.2 223.5 1019.8 224.6C1023.4 225.8 1027.2 226.8 1030.5 226.2C1033.9 225.6 1036.7 224.2 1039.7 221.0C1042.8 217.7 1045.9 211.8 1048.9 206.9C1052.0 202.0 1055.1 196.6 1058.1 191.5C1061.2 186.5 1063.7 182.0 1067.3 176.6C1071.0 171.1 1076.7 163.2 1080.0 158.7C1083.3 154.3 1084.7 152.3 1087.2 149.8C1089.7 147.3 1092.5 144.7 1095.2 143.5C1097.9 142.3 1100.8 142.2 1103.3 142.9C1105.8 143.6 1108.1 145.4 1110.5 147.5C1112.9 149.6 1115.6 152.8 1117.7 155.4C1119.8 158.0 1121.5 160.3 1123.3 163.0C1125.0 165.6 1126.7 168.5 1128.3 171.4C1129.9 174.2 1131.4 177.1 1132.9 180.0C1134.4 182.9 1135.9 185.9 1137.4 188.9C1138.9 191.8 1140.4 194.9 1141.8 197.9C1143.3 200.8 1144.7 203.8 1146.0 206.5C1147.2 209.3 1148.3 211.8 1149.5 214.4C1150.6 216.9 1151.5 219.3 1152.8 222.0C1154.0 224.8 1155.3 227.8 1156.8 231.0C1158.2 234.1 1160.0 237.6 1161.7 240.7C1163.4 243.8 1165.2 246.9 1167.0 249.6C1168.8 252.3 1170.6 254.8 1172.3 256.9C1174.1 259.1 1175.8 260.9 1177.4 262.6C1179.1 264.3 1180.6 265.8 1182.2 267.1C1183.7 268.3 1185.9 269.7 1186.7 270.2" stroke="#145f2d"/>
<path d="M802.3 232.3C804.3 234.0 810.4 239.8 814.5 242.4C818.6 245.0 822.7 246.5 826.8 247.9C830.9 249.4 834.9 249.9 839.0 251.0C843.1 252.1 847.2 253.7 851.3 254.7C855.4 255.6 860.0 256.5 863.5 256.8C867.1 257.2 869.2 257.4 872.7 256.8C876.3 256.2 880.9 254.5 885.0 253.1C889.1 251.8 893.2 250.6 897.2 248.5C901.3 246.5 905.4 243.7 909.5 240.9C913.6 238.1 917.7 234.7 921.8 231.7C925.8 228.6 929.9 225.0 934.0 222.5C938.1 219.9 942.7 217.7 946.3 216.4C949.9 215.0 952.4 214.1 955.5 214.2C958.5 214.4 961.6 215.9 964.7 217.3C967.7 218.7 970.3 219.7 973.9 222.5C977.4 225.2 982.0 230.0 986.1 233.8C990.2 237.6 994.5 242.2 998.4 245.5C1002.2 248.7 1005.5 251.1 1009.1 253.1C1012.7 255.2 1016.8 256.8 1019.8 257.7C1022.9 258.6 1024.7 259.2 1027.5 258.6C1030.3 258.1 1033.6 257.5 1036.7 254.7C1039.7 251.8 1042.8 246.3 1045.9 241.4C1048.9 236.6 1052.0 231.3 1055.1 225.7C1058.1 220.2 1061.2 214.0 1064.3 208.1C1067.3 202.2 1070.8 193.5 1073.4 190.3C1076.1 187.1 1077.7 190.4 1080.0 188.8C1082.3 187.2 1084.7 182.8 1087.2 180.7C1089.7 178.6 1092.7 176.6 1095.2 176.2C1097.7 175.8 1100.2 176.7 1102.4 178.0C1104.7 179.3 1106.6 182.0 1108.7 184.2C1110.8 186.5 1113.1 189.2 1115.0 191.7C1116.9 194.2 1118.4 196.6 1120.0 199.1C1121.6 201.6 1123.1 204.3 1124.5 206.8C1126.0 209.4 1127.2 211.7 1128.6 214.3C1129.9 216.9 1131.2 219.4 1132.7 222.4C1134.1 225.4 1135.8 228.7 1137.4 232.2C1139.1 235.7 1141.0 239.6 1142.8 243.4C1144.6 247.2 1146.4 251.1 1148.2 254.8C1150.0 258.6 1151.7 262.3 1153.5 265.9C1155.3 269.6 1157.1 273.1 1158.9 276.5C1160.7 279.9 1162.5 283.2 1164.3 286.4C1166.1 289.5 1167.9 292.5 1169.7 295.4C1171.5 298.2 1173.3 300.9 1175.1 303.6C1177.0 306.3 1178.8 308.9 1180.8 311.6C1182.7 314.3 1185.7 318.3 1186.7 319.6" stroke="#668f2c"/>
<path d="M802.3 281.6C804.3 283.0 810.4 288.2 814.5 289.9C818.6 291.6 822.7 291.2 826.8 292.0C830.9 292.9 834.9 294.2 839.0 295.1C843.1 296.0 847.5 297.1 851.3 297.6C855.1 298.1 858.4 298.4 862.0 298.2C865.6 297.9 868.9 297.4 872.7 296.0C876.6 294.7 880.9 291.9 885.0 289.9C889.1 287.9 893.2 286.3 897.2 283.8C901.3 281.2 905.4 277.9 909.5 274.6C913.6 271.3 917.7 267.2 921.8 263.9C925.8 260.5 929.9 257.2 934.0 254.7C938.1 252.1 942.7 250.1 946.3 248.5C949.9 247.0 952.4 245.5 955.5 245.5C958.5 245.5 961.6 247.0 964.7 248.5C967.7 250.1 970.3 251.9 973.9 254.7C977.4 257.5 982.0 261.8 986.1 265.4C990.2 269.0 994.5 273.0 998.4 276.1C1002.2 279.2 1005.5 281.6 1009.1 283.8C1012.7 285.9 1016.8 288.0 1019.8 289.0C1022.9 290.0 1024.7 290.4 1027.5 289.9C1030.3 289.4 1033.6 288.8 1036.7 285.9C1039.7 283.0 1042.8 277.2 1045.9 272.4C1048.9 267.6 1052.0 262.3 1055.1 257.0C1058.1 251.7 1061.2 245.9 1064.3 240.8C1067.3 235.7 1070.8 230.2 1073.4 226.5C1076.1 222.8 1078.2 220.2 1080.0 218.4C1081.8 216.6 1082.7 216.5 1084.5 215.7C1086.3 214.9 1088.7 213.8 1090.8 213.5C1092.9 213.2 1095.1 213.4 1097.0 213.9C1098.9 214.4 1100.9 215.5 1102.4 216.6C1103.9 217.7 1104.6 218.8 1106.2 220.8C1107.8 222.8 1110.2 225.7 1112.3 228.7C1114.4 231.6 1116.7 235.2 1118.6 238.5C1120.5 241.8 1122.2 245.0 1123.9 248.5C1125.6 252.0 1127.3 255.8 1129.0 259.4C1130.6 263.1 1132.2 266.7 1133.7 270.3C1135.3 273.9 1136.8 277.5 1138.3 281.0C1139.8 284.6 1141.3 288.2 1142.8 291.8C1144.3 295.3 1145.8 298.9 1147.3 302.5C1148.8 306.0 1150.3 309.6 1151.7 313.1C1153.2 316.6 1154.7 320.1 1156.1 323.3C1157.5 326.5 1158.8 329.5 1160.1 332.3C1161.4 335.1 1162.6 337.5 1163.9 340.2C1165.3 342.8 1166.7 345.3 1168.4 348.0C1170.0 350.6 1171.8 353.3 1173.7 355.9C1175.7 358.5 1177.8 361.2 1180.0 363.7C1182.1 366.3 1185.6 370.1 1186.7 371.4" stroke="#668f2c"/>
<path d="M802.3 328.2C804.3 329.2 810.4 333.2 814.5 334.3C818.6 335.5 822.7 334.5 826.8 334.9C830.9 335.4 834.7 335.8 839.0 336.8C843.4 337.8 848.7 340.8 852.8 341.1C856.9 341.3 860.2 339.4 863.5 338.3C866.9 337.2 869.2 336.3 872.7 334.3C876.3 332.4 880.9 329.2 885.0 326.7C889.1 324.1 893.2 322.2 897.2 319.0C901.3 315.9 905.4 311.6 909.5 307.8C913.6 304.1 917.7 300.3 921.8 296.5C925.8 292.8 929.9 288.7 934.0 285.3C938.1 281.9 942.4 278.2 946.3 276.1C950.1 274.1 953.7 272.8 957.0 273.0C960.3 273.3 963.1 275.9 966.2 277.6C969.3 279.4 972.1 281.1 975.4 283.8C978.7 286.4 982.3 290.0 986.1 293.5C989.9 297.0 994.5 301.2 998.4 304.7C1002.2 308.2 1005.5 312.0 1009.1 314.4C1012.7 316.8 1016.8 318.1 1019.8 319.0C1022.9 319.9 1024.7 320.2 1027.5 319.6C1030.3 319.0 1033.6 318.1 1036.7 315.3C1039.7 312.6 1042.8 307.5 1045.9 303.2C1048.9 298.8 1052.0 294.0 1055.1 289.3C1058.1 284.5 1061.2 279.4 1064.3 274.7C1067.3 269.9 1070.8 263.6 1073.4 260.8C1076.1 258.0 1078.2 258.7 1080.0 257.7C1081.8 256.7 1083.0 255.0 1084.5 254.5C1086.0 254.0 1087.2 253.8 1089.0 254.5C1090.8 255.2 1093.1 256.8 1095.2 258.6C1097.3 260.4 1099.4 262.9 1101.5 265.4C1103.6 267.8 1105.8 270.5 1107.8 273.3C1109.8 276.0 1111.4 278.6 1113.2 281.6C1115.0 284.7 1117.0 288.4 1118.6 291.6C1120.2 294.8 1121.6 297.7 1123.0 300.8C1124.5 304.0 1126.0 307.3 1127.5 310.6C1129.0 313.9 1130.5 317.2 1132.0 320.6C1133.5 323.9 1134.9 327.3 1136.4 330.8C1137.9 334.3 1139.4 337.8 1140.9 341.5C1142.5 345.3 1144.1 349.2 1145.8 353.2C1147.4 357.2 1149.2 361.5 1150.9 365.6C1152.7 369.6 1154.4 373.7 1156.2 377.6C1158.0 381.5 1159.8 385.3 1161.6 388.8C1163.4 392.3 1165.2 395.7 1167.0 398.7C1168.8 401.8 1170.6 404.6 1172.3 407.2C1174.1 409.7 1175.8 411.9 1177.4 413.9C1179.1 416.0 1180.6 417.6 1182.2 419.3C1183.7 421.0 1185.9 423.1 1186.7 423.9" stroke="#668f2c"/>
<path d="M802.3 373.5C804.3 374.1 810.4 376.8 814.5 377.4C818.6 378.1 822.7 377.1 826.8 377.4C830.9 377.8 834.9 378.9 839.0 379.6C843.1 380.3 847.2 382.0 851.3 381.7C855.4 381.5 859.5 379.7 863.5 378.1C867.6 376.4 871.7 374.5 875.8 371.9C879.9 369.4 884.0 366.2 888.1 362.7C892.1 359.3 896.2 355.3 900.3 351.3C904.4 347.4 908.5 343.3 912.6 339.2C916.7 335.0 920.7 330.7 924.8 326.4C928.9 322.2 933.0 317.3 937.1 313.7C941.2 310.2 945.8 307.1 949.3 305.1C952.9 303.2 955.5 301.8 958.5 302.1C961.6 302.4 964.7 304.6 967.7 307.0C970.8 309.3 973.6 312.7 976.9 316.1C980.2 319.6 984.1 323.7 987.6 327.5C991.2 331.2 994.8 335.0 998.4 338.6C1001.9 342.2 1005.5 346.4 1009.1 348.9C1012.7 351.5 1016.5 353.2 1019.8 354.2C1023.1 355.1 1025.9 355.6 1029.0 354.5C1032.1 353.3 1035.1 350.6 1038.2 347.4C1041.3 344.2 1044.3 339.2 1047.4 335.2C1050.5 331.1 1053.5 327.0 1056.6 322.9C1059.7 318.8 1061.9 314.5 1065.8 310.6C1069.7 306.8 1076.9 301.7 1080.0 299.8C1083.1 297.9 1083.0 299.2 1084.5 299.4C1086.0 299.5 1087.2 299.2 1089.0 300.7C1090.8 302.2 1093.3 305.8 1095.2 308.3C1097.1 310.8 1098.8 313.0 1100.6 315.6C1102.4 318.1 1104.3 321.1 1106.0 323.6C1107.7 326.2 1108.8 328.0 1110.5 330.9C1112.2 333.7 1114.2 337.0 1116.3 340.8C1118.4 344.6 1120.9 349.3 1123.0 353.5C1125.1 357.8 1127.0 362.2 1128.8 366.4C1130.6 370.7 1132.2 374.9 1133.7 379.1C1135.3 383.4 1136.8 387.7 1138.3 391.9C1139.8 396.2 1141.3 400.5 1142.8 404.6C1144.3 408.8 1145.8 412.9 1147.3 416.7C1148.8 420.5 1150.2 424.2 1151.7 427.7C1153.2 431.2 1154.7 434.6 1156.2 437.7C1157.7 440.8 1159.2 443.8 1160.6 446.4C1162.1 449.1 1163.4 451.5 1164.9 453.7C1166.4 456.0 1167.7 458.0 1169.4 460.1C1171.0 462.1 1172.7 464.1 1174.5 466.1C1176.4 468.1 1178.4 470.3 1180.5 472.1C1182.5 473.9 1185.7 476.2 1186.7 477.0" stroke="#adb92b"/>
<path d="M802.3 418.5C804.3 419.0 810.4 420.9 814.5 421.6C818.6 422.2 822.7 422.1 826.8 422.5C830.9 422.9 835.7 423.8 839.0 424.0C842.3 424.3 843.6 424.8 846.7 424.0C849.8 423.3 853.6 421.7 857.4 419.4C861.2 417.1 865.6 413.8 869.7 410.2C873.8 406.7 877.8 402.5 881.9 398.3C886.0 394.0 890.1 389.6 894.2 384.9C898.3 380.1 902.4 374.9 906.4 369.7C910.5 364.5 914.6 359.0 918.7 353.7C922.8 348.5 926.9 343.3 931.0 338.4C935.0 333.5 938.9 327.8 943.2 324.4C947.6 321.1 952.9 318.3 957.0 318.3C961.1 318.3 964.4 321.7 967.7 324.4C971.0 327.2 973.6 330.8 976.9 334.8C980.2 338.7 984.1 343.5 987.6 348.1C991.2 352.6 994.8 357.5 998.4 362.1C1001.9 366.6 1005.5 371.1 1009.1 375.3C1012.7 379.5 1016.2 384.3 1019.8 387.2C1023.4 390.2 1027.2 392.8 1030.5 392.8C1033.9 392.8 1036.7 389.5 1039.7 387.2C1042.8 385.0 1045.9 381.8 1048.9 379.1C1052.0 376.4 1055.1 373.6 1058.1 370.9C1061.2 368.1 1063.7 364.4 1067.3 362.7C1071.0 361.0 1077.3 361.1 1080.0 360.6C1082.7 360.1 1082.1 359.2 1083.6 359.7C1085.1 360.1 1087.1 361.4 1089.0 363.3C1090.9 365.2 1093.1 368.2 1095.2 370.9C1097.3 373.6 1099.5 376.7 1101.5 379.6C1103.5 382.5 1105.1 385.2 1106.9 388.4C1108.7 391.6 1110.5 395.1 1112.3 398.8C1114.1 402.4 1115.9 406.3 1117.7 410.1C1119.5 413.9 1121.3 417.9 1123.0 421.7C1124.7 425.5 1126.4 429.4 1128.1 433.1C1129.7 436.8 1131.3 440.3 1132.7 443.7C1134.2 447.1 1135.5 450.1 1136.8 453.2C1138.2 456.4 1139.4 459.3 1140.9 462.6C1142.3 466.0 1143.9 469.6 1145.6 473.3C1147.2 477.0 1149.1 481.1 1150.8 484.8C1152.6 488.5 1154.4 492.2 1156.2 495.5C1158.0 498.9 1159.8 502.1 1161.6 505.0C1163.4 508.0 1165.2 510.7 1167.0 513.2C1168.8 515.6 1170.6 517.9 1172.3 519.9C1174.1 521.9 1175.8 523.6 1177.4 525.2C1179.1 526.8 1180.6 528.3 1182.2 529.5C1183.7 530.7 1185.9 532.1 1186.7 532.6" stroke="#adb92b"/>
<path d="M802.3 463.9C804.3 464.4 810.4 466.3 814.5 466.9C818.6 467.5 822.2 467.1 826.8 467.5C831.4 467.9 838.0 470.0 842.1 469.4C846.2 468.8 847.7 466.2 851.3 463.9C854.9 461.5 859.5 458.2 863.5 455.3C867.6 452.3 871.7 450.1 875.8 446.1C879.9 442.1 884.0 436.6 888.1 431.1C892.1 425.7 896.2 419.4 900.3 413.4C904.4 407.3 908.5 400.5 912.6 394.6C916.7 388.7 920.7 383.0 924.8 377.9C928.9 372.8 933.3 368.1 937.1 364.0C940.9 360.0 944.5 355.8 947.8 353.5C951.1 351.3 953.7 349.7 957.0 350.5C960.3 351.2 964.4 354.9 967.7 358.1C971.0 361.4 973.6 365.5 976.9 369.8C980.2 374.2 984.1 379.4 987.6 384.3C991.2 389.1 994.8 394.1 998.4 398.7C1001.9 403.4 1005.5 407.8 1009.1 412.1C1012.7 416.3 1016.2 420.9 1019.8 424.0C1023.4 427.1 1027.2 430.5 1030.5 430.8C1033.9 431.0 1036.7 427.7 1039.7 425.6C1042.8 423.4 1045.9 420.2 1048.9 417.9C1052.0 415.6 1055.1 413.6 1058.1 411.8C1061.2 410.0 1063.7 407.9 1067.3 407.2C1071.0 406.4 1077.3 407.4 1080.0 407.3C1082.7 407.2 1082.1 406.1 1083.6 406.4C1085.1 406.7 1087.2 407.4 1089.0 409.1C1090.8 410.8 1092.5 414.0 1094.3 416.6C1096.1 419.3 1097.9 422.1 1099.7 425.1C1101.5 428.2 1103.4 431.8 1105.1 434.9C1106.8 438.1 1108.1 441.0 1109.6 444.1C1111.1 447.2 1112.8 450.9 1114.1 453.6C1115.4 456.3 1115.7 457.0 1117.3 460.4C1118.9 463.8 1121.5 469.4 1123.5 473.9C1125.4 478.4 1127.3 482.9 1129.2 487.4C1131.1 491.8 1132.9 496.3 1134.7 500.7C1136.5 505.2 1138.3 509.7 1140.1 514.0C1141.9 518.3 1143.7 522.7 1145.5 526.7C1147.3 530.8 1149.1 534.6 1150.9 538.3C1152.7 541.9 1154.4 545.3 1156.2 548.4C1158.0 551.6 1159.8 554.5 1161.6 557.2C1163.4 559.9 1165.2 562.3 1167.0 564.6C1168.8 566.9 1170.6 568.9 1172.4 570.8C1174.2 572.8 1176.0 574.7 1177.7 576.2C1179.3 577.7 1180.9 578.7 1182.5 579.8C1184.0 580.9 1186.0 582.2 1186.7 582.7" stroke="#adb92b"/>
<path d="M802.3 510.4C804.3 510.7 810.4 511.9 814.5 512.3C818.6 512.7 822.4 512.8 826.8 512.9C831.1 513.0 836.5 514.3 840.6 512.9C844.6 511.5 847.5 507.3 851.3 504.3C855.1 501.3 859.5 498.0 863.5 494.8C867.6 491.6 871.7 489.1 875.8 485.0C879.9 480.9 884.0 475.8 888.1 470.5C892.1 465.2 896.2 459.6 900.3 453.2C904.4 446.8 909.0 438.5 912.6 432.2C916.1 425.9 918.7 420.6 921.8 415.4C924.8 410.3 927.9 405.3 931.0 401.1C934.0 396.9 937.1 392.9 940.1 390.3C943.2 387.7 946.3 386.5 949.3 385.7C952.4 385.0 955.5 384.1 958.5 385.7C961.6 387.3 964.7 391.7 967.7 395.2C970.8 398.8 973.6 402.3 976.9 406.8C980.2 411.4 984.1 417.2 987.6 422.4C991.2 427.6 994.8 433.1 998.4 438.0C1001.9 442.9 1005.5 447.5 1009.1 451.8C1012.7 456.1 1016.2 460.9 1019.8 463.9C1023.4 466.8 1027.2 469.1 1030.5 469.4C1033.9 469.6 1036.7 467.1 1039.7 465.4C1042.8 463.7 1045.9 461.1 1048.9 459.3C1052.0 457.4 1055.3 455.3 1058.1 454.1C1060.9 452.8 1062.1 451.8 1065.8 451.6C1069.4 451.4 1076.9 452.6 1080.0 453.0C1083.1 453.4 1083.0 453.1 1084.5 453.9C1086.0 454.6 1087.7 456.5 1089.0 457.5C1090.3 458.5 1090.7 458.1 1092.2 460.0C1093.7 461.9 1095.9 465.4 1097.9 468.7C1099.9 472.0 1102.2 476.0 1104.2 479.7C1106.2 483.4 1107.8 487.0 1109.6 491.1C1111.4 495.2 1113.2 499.7 1115.0 504.2C1116.8 508.7 1118.6 513.4 1120.3 517.9C1122.0 522.5 1123.7 527.1 1125.4 531.5C1127.0 535.8 1128.6 540.0 1130.2 544.2C1131.9 548.3 1133.5 552.3 1135.2 556.3C1137.0 560.3 1138.9 564.3 1140.8 568.3C1142.8 572.3 1144.9 576.3 1147.0 580.1C1149.0 583.9 1151.1 587.7 1153.1 591.2C1155.1 594.7 1157.0 598.0 1158.8 601.1C1160.7 604.2 1162.5 607.1 1164.3 609.8C1166.1 612.4 1167.9 614.8 1169.7 617.0C1171.5 619.2 1173.3 621.1 1175.1 623.0C1177.0 624.9 1178.8 626.7 1180.8 628.4C1182.7 630.0 1185.7 632.1 1186.7 632.9" stroke="#e9c42a"/>
<path d="M802.3 555.8C804.3 556.2 810.4 558.0 814.5 558.2C818.6 558.5 822.4 557.7 826.8 557.3C831.1 556.9 836.5 557.4 840.6 555.8C844.6 554.2 847.5 550.4 851.3 547.5C855.1 544.6 859.5 541.5 863.5 538.3C867.6 535.2 871.7 533.2 875.8 528.5C879.9 523.8 884.0 516.5 888.1 510.1C892.1 503.6 896.2 496.7 900.3 489.8C904.4 482.9 909.0 474.7 912.6 468.7C916.1 462.6 918.7 458.3 921.8 453.6C924.8 448.8 927.9 444.5 931.0 440.4C934.0 436.3 937.1 431.7 940.1 428.9C943.2 426.1 946.3 424.3 949.3 423.4C952.4 422.5 955.5 422.3 958.5 423.4C961.6 424.5 964.7 427.2 967.7 430.1C970.8 433.1 973.6 436.6 976.9 441.0C980.2 445.4 984.1 451.0 987.6 456.6C991.2 462.1 994.8 468.7 998.4 474.5C1001.9 480.3 1005.5 486.3 1009.1 491.4C1012.7 496.5 1016.2 502.2 1019.8 505.2C1023.4 508.3 1027.2 509.7 1030.5 509.8C1033.9 510.0 1036.7 507.7 1039.7 506.1C1042.8 504.6 1045.9 502.6 1048.9 500.6C1052.0 498.7 1055.3 495.8 1058.1 494.5C1060.9 493.2 1062.1 492.6 1065.8 493.0C1069.4 493.4 1076.9 495.9 1080.0 496.8C1083.1 497.7 1082.8 497.2 1084.5 498.6C1086.2 500.0 1088.0 502.7 1089.9 505.1C1091.8 507.5 1094.0 510.1 1096.1 512.9C1098.2 515.8 1100.6 519.2 1102.4 522.2C1104.2 525.1 1105.4 527.6 1106.9 530.7C1108.4 533.7 1109.9 537.3 1111.4 540.8C1112.9 544.2 1114.4 547.9 1115.9 551.3C1117.4 554.8 1118.9 558.2 1120.3 561.5C1121.8 564.9 1123.3 568.0 1124.8 571.4C1126.4 574.9 1128.0 578.3 1129.7 582.1C1131.5 585.8 1133.4 589.9 1135.2 594.0C1137.1 598.1 1139.1 602.5 1140.9 606.6C1142.8 610.7 1144.6 614.8 1146.4 618.7C1148.2 622.6 1149.9 626.4 1151.7 630.1C1153.5 633.7 1155.3 637.2 1157.1 640.5C1158.9 643.8 1160.7 646.9 1162.5 649.8C1164.3 652.7 1166.1 655.4 1167.9 657.9C1169.7 660.4 1171.5 662.8 1173.2 664.9C1175.0 667.1 1176.7 669.0 1178.3 670.8C1179.9 672.5 1181.3 674.1 1182.7 675.5C1184.1 677.0 1186.0 678.9 1186.7 679.6" stroke="#e9c42a"/>
<path d="M802.3 602.0C804.3 602.5 810.4 604.5 814.5 605.0C818.6 605.5 822.7 605.5 826.8 605.0C830.9 604.5 834.9 603.9 839.0 602.0C843.1 600.0 848.0 595.8 851.3 593.4C854.6 590.9 855.9 590.4 858.9 587.2C862.0 584.1 865.8 579.2 869.7 574.4C873.5 569.5 877.8 564.0 881.9 558.3C886.0 552.5 890.1 546.4 894.2 539.9C898.3 533.4 902.9 525.5 906.4 519.5C910.0 513.4 912.6 508.7 915.6 503.5C918.7 498.3 922.3 492.2 924.8 488.3C927.4 484.3 928.4 482.9 931.0 479.9C933.5 476.8 937.1 472.2 940.1 470.0C943.2 467.7 946.3 466.7 949.3 466.3C952.4 465.9 955.5 465.6 958.5 467.5C961.6 469.4 964.7 474.0 967.7 477.6C970.8 481.3 973.6 484.9 976.9 489.5C980.2 494.1 984.1 500.0 987.6 505.3C991.2 510.5 994.8 516.2 998.4 521.1C1001.9 526.1 1005.5 530.8 1009.1 535.0C1012.7 539.3 1016.2 543.8 1019.8 546.6C1023.4 549.4 1027.0 551.9 1030.5 552.0C1034.1 552.1 1038.0 548.9 1041.3 547.4C1044.6 545.9 1047.4 544.3 1050.5 542.8C1053.5 541.3 1056.8 539.1 1059.7 538.2C1062.5 537.3 1063.9 536.8 1067.3 537.3C1070.7 537.8 1077.1 540.2 1080.0 541.2C1082.9 542.2 1082.8 541.9 1084.5 543.4C1086.2 544.9 1088.0 547.7 1089.9 550.2C1091.8 552.7 1094.0 555.5 1096.1 558.4C1098.2 561.3 1100.8 565.0 1102.4 567.5C1104.1 570.1 1104.9 571.7 1106.0 573.8C1107.1 575.9 1107.5 576.7 1109.2 580.2C1110.9 583.6 1113.9 590.0 1115.9 594.5C1117.9 598.9 1119.5 602.5 1121.3 606.6C1123.1 610.8 1124.8 615.1 1126.6 619.3C1128.4 623.5 1130.2 627.8 1132.0 631.9C1133.8 636.1 1135.6 640.3 1137.4 644.4C1139.2 648.5 1141.0 652.5 1142.8 656.5C1144.6 660.4 1146.4 664.2 1148.2 668.0C1150.0 671.7 1151.7 675.3 1153.6 678.8C1155.4 682.3 1157.3 685.7 1159.1 689.0C1161.0 692.2 1163.0 695.5 1164.8 698.4C1166.7 701.3 1168.6 704.1 1170.5 706.6C1172.3 709.1 1174.1 711.3 1176.0 713.5C1177.8 715.6 1179.5 717.5 1181.3 719.5C1183.1 721.4 1185.8 724.2 1186.7 725.1" stroke="#e9c42a"/>
<path d="M802.3 647.0C804.3 647.7 810.9 650.2 814.5 651.0C818.1 651.8 820.6 651.8 823.7 651.6C826.8 651.4 829.3 651.6 832.9 650.1C836.5 648.5 841.1 645.2 845.2 642.4C849.2 639.6 853.3 637.4 857.4 633.2C861.5 629.0 865.6 622.7 869.7 617.1C873.8 611.5 877.8 605.9 881.9 599.7C886.0 593.5 890.1 587.0 894.2 580.2C898.3 573.4 902.9 565.1 906.4 558.8C910.0 552.6 912.6 547.7 915.6 542.7C918.7 537.6 921.8 532.8 924.8 528.5C927.9 524.1 931.0 519.3 934.0 516.8C937.1 514.2 940.1 514.1 943.2 513.1C946.3 512.1 949.6 510.6 952.4 510.6C955.2 510.6 957.3 510.8 960.1 513.1C962.9 515.4 966.2 520.4 969.3 524.6C972.3 528.7 975.4 533.3 978.5 538.0C981.5 542.8 984.3 547.7 987.6 553.0C991.0 558.3 994.8 564.7 998.4 569.8C1001.9 575.0 1005.5 579.5 1009.1 583.7C1012.7 587.9 1016.2 591.9 1019.8 594.9C1023.4 597.9 1027.2 601.1 1030.5 601.7C1033.9 602.2 1036.7 599.4 1039.7 598.0C1042.8 596.6 1046.1 595.2 1048.9 593.4C1051.7 591.6 1053.8 588.7 1056.6 587.2C1059.4 585.8 1061.9 584.5 1065.8 584.8C1069.7 585.1 1076.9 588.1 1080.0 589.0C1083.1 589.9 1082.8 588.7 1084.5 589.9C1086.2 591.1 1088.0 593.9 1089.9 596.2C1091.8 598.5 1094.0 601.0 1096.1 603.8C1098.2 606.6 1100.6 610.1 1102.4 613.0C1104.2 615.9 1105.4 618.2 1106.9 621.3C1108.4 624.4 1109.9 628.0 1111.4 631.6C1112.9 635.1 1114.4 639.0 1115.9 642.7C1117.4 646.5 1118.9 650.3 1120.4 654.0C1121.9 657.7 1123.3 661.4 1124.8 665.0C1126.3 668.5 1127.8 672.1 1129.3 675.5C1130.8 678.9 1132.3 682.2 1133.7 685.3C1135.2 688.4 1136.5 691.2 1138.0 694.2C1139.5 697.1 1140.9 700.0 1142.6 703.2C1144.2 706.5 1146.0 710.1 1147.8 713.6C1149.7 717.1 1151.6 721.0 1153.4 724.4C1155.3 727.9 1157.1 731.2 1158.9 734.3C1160.7 737.4 1162.5 740.2 1164.3 743.0C1166.1 745.7 1167.9 748.2 1169.7 750.7C1171.5 753.1 1173.3 755.4 1175.1 757.6C1177.0 759.9 1178.8 762.1 1180.8 764.3C1182.7 766.5 1185.7 769.8 1186.7 770.9" stroke="#eeaa25"/>
<path d="M802.3 692.0C804.3 693.0 810.4 696.1 814.5 697.6C818.6 699.0 823.2 700.9 826.8 700.6C830.3 700.4 832.9 697.8 836.0 696.0C839.0 694.2 841.6 692.5 845.2 689.9C848.7 687.3 853.3 685.0 857.4 680.7C861.5 676.4 865.6 669.9 869.7 664.1C873.8 658.4 877.8 652.5 881.9 646.1C886.0 639.8 890.1 633.1 894.2 626.3C898.3 619.4 902.9 611.0 906.4 604.8C910.0 598.5 912.6 593.7 915.6 588.7C918.7 583.7 921.8 579.1 924.8 575.0C927.9 570.9 931.0 566.8 934.0 564.3C937.1 561.7 940.4 560.7 943.2 559.7C946.0 558.6 948.1 557.6 950.9 558.1C953.7 558.6 957.0 560.0 960.1 562.7C963.1 565.5 966.2 570.5 969.3 574.7C972.3 578.9 975.4 583.4 978.5 588.0C981.5 592.7 984.3 597.4 987.6 602.6C991.0 607.7 994.8 614.0 998.4 619.0C1001.9 624.0 1005.5 628.6 1009.1 632.7C1012.7 636.9 1016.2 641.3 1019.8 643.9C1023.4 646.6 1027.2 648.3 1030.5 648.5C1033.9 648.8 1036.7 646.7 1039.7 645.5C1042.8 644.2 1046.1 642.7 1048.9 640.9C1051.7 639.1 1053.8 636.1 1056.6 634.7C1059.4 633.4 1061.9 632.0 1065.8 632.6C1069.7 633.2 1076.9 637.2 1080.0 638.3C1083.1 639.4 1082.8 637.9 1084.5 639.2C1086.2 640.5 1088.0 643.5 1089.9 646.0C1091.8 648.6 1094.2 651.7 1096.1 654.4C1098.0 657.2 1099.8 659.9 1101.5 662.5C1103.2 665.2 1104.5 667.7 1106.0 670.6C1107.5 673.5 1109.0 676.7 1110.5 680.0C1112.0 683.2 1113.5 686.6 1115.0 689.9C1116.5 693.3 1117.7 695.8 1119.5 699.8C1121.3 703.8 1123.9 709.3 1126.0 713.8C1128.0 718.3 1130.0 722.6 1131.9 726.8C1133.8 731.1 1135.6 735.2 1137.4 739.3C1139.2 743.3 1141.0 747.4 1142.8 751.3C1144.6 755.2 1146.4 759.0 1148.2 762.7C1150.0 766.3 1151.7 769.8 1153.5 773.0C1155.3 776.3 1157.1 779.4 1158.9 782.4C1160.7 785.3 1162.5 788.1 1164.3 790.7C1166.1 793.4 1167.9 795.8 1169.7 798.3C1171.5 800.7 1173.3 802.9 1175.1 805.2C1177.0 807.4 1178.8 809.6 1180.8 811.8C1182.7 814.0 1185.7 817.3 1186.7 818.4" stroke="#eeaa25"/>
<path d="M802.3 738.9C804.3 739.7 810.4 741.3 814.5 743.5C818.6 745.7 823.2 751.6 826.8 752.1C830.3 752.6 832.9 748.5 836.0 746.6C839.0 744.7 841.6 743.0 845.2 740.5C848.7 737.9 853.3 735.6 857.4 731.3C861.5 727.0 865.6 720.5 869.7 714.6C873.8 708.8 877.8 702.7 881.9 696.1C886.0 689.6 890.1 682.5 894.2 675.3C898.3 668.0 902.9 659.3 906.4 652.8C910.0 646.3 912.6 641.3 915.6 636.3C918.7 631.2 921.8 626.6 924.8 622.5C927.9 618.4 931.0 614.3 934.0 611.8C937.1 609.2 940.4 608.1 943.2 607.2C946.0 606.2 948.1 605.5 950.9 606.2C953.7 607.0 957.0 608.8 960.1 611.8C963.1 614.8 966.2 619.8 969.3 624.3C972.3 628.8 975.4 633.6 978.5 638.6C981.5 643.6 984.3 648.7 987.6 654.1C991.0 659.6 994.8 666.2 998.4 671.4C1001.9 676.7 1005.5 681.5 1009.1 685.9C1012.7 690.2 1016.2 695.1 1019.8 697.6C1023.4 700.0 1027.0 700.4 1030.5 700.6C1034.1 700.9 1038.2 700.1 1041.3 699.1C1044.3 698.1 1046.4 696.4 1048.9 694.5C1051.5 692.6 1053.8 689.3 1056.6 687.8C1059.4 686.2 1061.9 685.2 1065.8 685.3C1069.7 685.4 1077.0 688.0 1080.0 688.5C1083.0 689.0 1082.1 687.7 1083.6 688.5C1085.1 689.3 1087.2 691.7 1089.0 693.3C1090.8 695.0 1093.1 697.1 1094.3 698.3C1095.5 699.5 1094.8 698.5 1096.3 700.6C1097.8 702.7 1101.2 707.4 1103.3 710.8C1105.4 714.2 1106.9 717.1 1108.7 720.8C1110.5 724.6 1112.4 729.2 1114.1 733.2C1115.8 737.3 1117.1 741.0 1118.6 745.0C1120.1 749.0 1121.6 753.1 1123.0 757.2C1124.5 761.2 1126.0 765.3 1127.5 769.2C1129.0 773.1 1130.5 776.9 1132.1 780.7C1133.6 784.4 1135.2 788.0 1136.8 791.6C1138.5 795.1 1140.2 798.6 1141.9 802.0C1143.7 805.3 1145.5 808.5 1147.3 811.8C1149.1 815.0 1151.0 818.1 1152.8 821.3C1154.7 824.5 1156.7 827.8 1158.6 831.0C1160.5 834.2 1162.4 837.4 1164.2 840.4C1166.1 843.4 1167.9 846.3 1169.7 848.9C1171.5 851.5 1173.3 853.9 1175.1 856.2C1177.0 858.4 1178.8 860.5 1180.8 862.5C1182.7 864.5 1185.7 867.4 1186.7 868.4" stroke="#eeaa25"/>
<path d="M802.3 786.6C804.3 786.8 811.4 786.7 814.5 787.9C817.6 789.0 818.3 791.4 820.6 793.4C822.9 795.3 825.2 799.4 828.3 799.5C831.4 799.6 835.2 795.9 839.0 794.0C842.9 792.1 847.5 790.0 851.3 787.9C855.1 785.7 858.7 784.0 862.0 781.1C865.3 778.3 867.9 774.8 871.2 770.6C874.5 766.5 878.1 762.0 881.9 756.4C885.8 750.8 890.6 743.3 894.2 737.1C897.8 730.9 900.3 726.0 903.4 719.3C906.4 712.6 910.5 702.0 912.6 697.0C914.6 692.0 913.6 693.6 915.6 689.5C917.7 685.3 921.8 677.0 924.8 672.3C927.9 667.5 931.0 663.5 934.0 660.8C937.1 658.1 940.4 657.1 943.2 656.2C946.0 655.3 948.1 654.5 950.9 655.3C953.7 656.0 957.0 657.6 960.1 660.8C963.1 664.0 966.2 669.6 969.3 674.3C972.3 679.0 975.4 684.0 978.5 689.1C981.5 694.1 984.3 699.2 987.6 704.7C991.0 710.2 994.8 716.7 998.4 722.1C1001.9 727.4 1005.5 732.3 1009.1 736.7C1012.7 741.2 1016.2 746.2 1019.8 748.9C1023.4 751.6 1027.0 752.4 1030.5 752.9C1034.1 753.4 1038.2 752.9 1041.3 752.0C1044.3 751.1 1046.4 749.5 1048.9 747.4C1051.5 745.4 1053.8 741.3 1056.6 739.8C1059.4 738.2 1061.9 738.4 1065.8 738.2C1069.7 738.0 1076.9 738.4 1080.0 738.6C1083.1 738.8 1082.8 738.5 1084.5 739.5C1086.2 740.5 1088.1 742.8 1089.9 744.8C1091.7 746.7 1093.4 748.7 1095.2 751.1C1097.0 753.5 1098.8 756.2 1100.6 759.2C1102.4 762.2 1104.3 765.8 1106.0 769.0C1107.7 772.2 1109.0 775.2 1110.5 778.5C1112.0 781.8 1113.5 785.3 1115.0 788.8C1116.5 792.3 1118.0 795.8 1119.5 799.3C1121.0 802.8 1122.6 806.2 1124.2 809.9C1125.9 813.6 1127.7 817.3 1129.5 821.2C1131.3 825.2 1133.3 829.4 1135.2 833.4C1137.1 837.5 1139.1 841.6 1140.9 845.6C1142.8 849.5 1144.6 853.3 1146.4 857.1C1148.2 860.9 1149.9 864.6 1151.7 868.2C1153.5 871.8 1155.3 875.4 1157.1 878.9C1158.9 882.4 1160.7 885.8 1162.5 889.0C1164.3 892.2 1166.1 895.4 1167.9 898.2C1169.7 901.0 1171.5 903.6 1173.2 905.9C1175.0 908.2 1176.7 910.1 1178.3 911.9C1179.9 913.7 1181.3 915.2 1182.7 916.4C1184.1 917.7 1186.0 919.1 1186.7 919.6" stroke="#f27c22"/>
<path d="M802.3 837.8C804.3 838.0 811.4 837.5 814.5 838.7C817.6 840.0 818.3 843.3 820.6 845.5C822.9 847.6 825.2 851.3 828.3 851.6C831.4 851.9 835.2 848.8 839.0 847.0C842.9 845.2 847.5 843.2 851.3 840.9C855.1 838.6 858.7 836.3 862.0 833.2C865.3 830.1 867.9 826.6 871.2 822.3C874.5 818.0 878.1 813.2 881.9 807.2C885.8 801.3 890.6 793.0 894.2 786.5C897.8 780.1 900.3 774.7 903.4 768.6C906.4 762.5 909.5 755.8 912.6 749.8C915.6 743.8 918.7 737.9 921.8 732.4C924.8 726.9 927.9 720.5 931.0 716.8C934.0 713.0 937.1 711.6 940.1 710.0C943.2 708.5 946.5 707.5 949.3 707.6C952.2 707.7 954.4 708.3 957.0 710.6C959.6 712.9 961.9 717.2 964.7 721.4C967.5 725.6 970.8 730.9 973.9 736.0C976.9 741.1 979.7 746.3 983.0 752.0C986.4 757.8 990.2 764.7 993.8 770.4C997.3 776.1 1000.9 781.4 1004.5 786.3C1008.1 791.1 1011.6 796.4 1015.2 799.5C1018.8 802.6 1022.6 803.8 1025.9 805.0C1029.3 806.2 1032.3 806.5 1035.1 806.6C1038.0 806.7 1040.2 806.6 1042.8 805.6C1045.4 804.7 1047.9 802.7 1050.5 801.0C1053.0 799.4 1055.3 797.2 1058.1 795.8C1060.9 794.5 1063.7 793.5 1067.3 792.8C1071.0 792.0 1077.1 791.4 1080.0 791.5C1082.9 791.6 1082.8 792.0 1084.5 793.3C1086.2 794.6 1088.1 797.3 1089.9 799.4C1091.7 801.6 1093.4 803.8 1095.2 806.2C1097.0 808.7 1099.0 811.7 1100.6 814.1C1102.2 816.4 1102.8 817.4 1104.6 820.5C1106.4 823.6 1109.4 828.9 1111.4 832.8C1113.4 836.7 1115.0 840.0 1116.8 843.8C1118.6 847.7 1120.4 851.8 1122.2 855.9C1124.0 860.0 1125.7 864.2 1127.5 868.2C1129.3 872.3 1131.1 876.4 1132.9 880.4C1134.7 884.4 1136.5 888.4 1138.3 892.3C1140.1 896.2 1141.9 900.0 1143.7 903.8C1145.5 907.5 1147.3 911.2 1149.1 914.7C1150.8 918.2 1152.6 921.7 1154.3 924.8C1156.0 928.0 1157.5 930.8 1159.1 933.6C1160.7 936.4 1162.1 938.8 1163.7 941.4C1165.4 944.1 1167.0 946.7 1168.8 949.4C1170.6 952.1 1172.5 954.9 1174.5 957.5C1176.4 960.1 1178.4 962.6 1180.5 965.1C1182.5 967.6 1185.7 971.1 1186.7 972.3" stroke="#f27c22"/>
<path d="M802.3 879.2C804.3 879.9 810.9 882.2 814.5 883.8C818.1 885.3 820.6 887.2 823.7 888.4C826.8 889.5 829.8 891.1 832.9 890.8C836.0 890.6 839.0 888.3 842.1 886.8C845.2 885.4 848.0 884.0 851.3 882.2C854.6 880.5 858.7 878.7 862.0 876.1C865.3 873.5 867.9 870.4 871.2 866.5C874.5 862.5 878.1 858.0 881.9 852.2C885.8 846.4 890.6 838.2 894.2 831.8C897.8 825.5 900.3 820.2 903.4 814.2C906.4 808.2 909.5 801.6 912.6 795.8C915.6 789.9 918.7 784.2 921.8 778.9C924.8 773.7 927.9 767.6 931.0 764.3C934.0 761.0 937.1 760.2 940.1 759.1C943.2 757.9 946.5 756.9 949.3 757.2C952.2 757.6 954.4 758.7 957.0 761.2C959.6 763.7 961.9 767.7 964.7 771.9C967.5 776.2 970.8 781.4 973.9 786.6C976.9 791.7 979.7 796.9 983.0 802.7C986.4 808.5 990.2 815.6 993.8 821.5C997.3 827.3 1000.9 832.9 1004.5 837.9C1008.1 842.9 1011.6 848.3 1015.2 851.6C1018.8 854.9 1022.6 856.7 1025.9 857.7C1029.3 858.7 1032.3 858.0 1035.1 857.7C1038.0 857.5 1040.2 857.5 1042.8 856.2C1045.4 854.9 1047.7 852.4 1050.5 850.1C1053.3 847.8 1056.6 844.7 1059.7 842.4C1062.7 840.1 1065.5 837.5 1068.8 836.3C1072.2 835.1 1077.2 835.1 1080.0 835.2C1082.8 835.3 1083.5 836.0 1085.4 837.0C1087.4 838.0 1089.8 839.5 1091.7 841.5C1093.6 843.5 1095.2 846.4 1097.0 849.0C1098.8 851.5 1100.6 854.2 1102.4 856.8C1104.2 859.5 1106.0 862.1 1107.8 864.9C1109.6 867.7 1111.5 870.8 1113.2 873.6C1114.9 876.4 1116.2 878.9 1117.7 881.9C1119.2 884.9 1120.7 888.2 1122.2 891.5C1123.7 894.8 1125.1 898.3 1126.6 901.7C1128.1 905.2 1129.6 908.7 1131.1 912.2C1132.6 915.6 1134.1 919.0 1135.6 922.3C1137.1 925.6 1138.5 928.7 1140.1 932.0C1141.6 935.3 1143.2 938.6 1145.0 942.3C1146.7 945.9 1148.6 949.8 1150.5 953.7C1152.4 957.6 1154.3 961.7 1156.1 965.5C1158.0 969.3 1159.8 973.1 1161.6 976.7C1163.4 980.3 1165.2 983.7 1167.0 986.9C1168.8 990.1 1170.6 993.1 1172.3 995.9C1174.1 998.6 1175.8 1001.0 1177.4 1003.2C1179.1 1005.5 1180.6 1007.4 1182.2 1009.2C1183.7 1011.1 1185.9 1013.5 1186.7 1014.4" stroke="#f27c22"/>
<path d="M802.3 931.3C804.3 932.0 810.9 934.3 814.5 935.9C818.1 937.4 820.6 939.3 823.7 940.5C826.8 941.6 829.8 943.2 832.9 942.9C836.0 942.7 839.0 940.4 842.1 938.9C845.2 937.5 848.0 936.1 851.3 934.3C854.6 932.5 858.7 930.8 862.0 928.2C865.3 925.6 867.9 922.5 871.2 918.6C874.5 914.6 878.1 910.1 881.9 904.3C885.8 898.5 890.6 890.3 894.2 883.9C897.8 877.6 900.3 872.3 903.4 866.4C906.4 860.5 909.5 854.1 912.6 848.4C915.6 842.8 918.7 837.5 921.8 832.6C924.8 827.8 927.9 822.4 931.0 819.4C934.0 816.5 937.1 816.0 940.1 814.8C943.2 813.7 946.5 812.1 949.3 812.4C952.2 812.6 954.4 813.9 957.0 816.4C959.6 818.8 961.9 822.9 964.7 827.1C967.5 831.3 970.8 836.6 973.9 841.8C976.9 847.0 979.7 852.3 983.0 858.3C986.4 864.3 990.2 871.6 993.8 877.7C997.3 883.9 1000.9 889.7 1004.5 895.1C1008.1 900.4 1011.6 906.4 1015.2 909.8C1018.8 913.2 1022.6 914.3 1025.9 915.3C1029.3 916.4 1032.3 916.1 1035.1 915.9C1038.0 915.8 1040.2 915.4 1042.8 914.4C1045.4 913.4 1047.7 911.9 1050.5 909.8C1053.3 907.8 1056.6 904.5 1059.7 902.2C1062.7 899.9 1065.5 897.5 1068.8 896.0C1072.2 894.5 1077.2 893.4 1080.0 893.1C1082.8 892.8 1083.6 893.6 1085.4 894.4C1087.2 895.2 1089.0 896.1 1090.8 898.0C1092.6 899.9 1094.3 903.1 1096.1 905.8C1097.9 908.5 1099.7 911.4 1101.5 914.2C1103.3 917.0 1105.1 919.9 1106.9 922.8C1108.7 925.7 1110.5 928.4 1112.3 931.4C1114.1 934.5 1116.0 937.6 1118.0 941.3C1120.0 944.9 1122.3 949.4 1124.3 953.5C1126.3 957.6 1128.2 961.8 1130.1 965.9C1132.0 969.9 1133.8 973.9 1135.6 977.9C1137.4 981.9 1139.2 985.9 1141.0 989.9C1142.8 993.8 1144.6 997.7 1146.4 1001.6C1148.2 1005.4 1149.9 1009.2 1151.7 1012.8C1153.5 1016.4 1155.3 1020.0 1157.1 1023.4C1158.9 1026.8 1160.7 1030.1 1162.5 1033.3C1164.3 1036.4 1166.1 1039.4 1167.9 1042.3C1169.7 1045.1 1171.5 1047.8 1173.2 1050.4C1174.9 1052.9 1176.5 1055.2 1178.0 1057.4C1179.5 1059.7 1180.9 1061.7 1182.4 1063.9C1183.8 1066.0 1186.0 1069.2 1186.7 1070.3" stroke="#f5584a"/>
<path d="M802.3 985.7C804.3 986.4 810.9 988.2 814.5 989.7C818.1 991.2 820.6 993.7 823.7 994.9C826.8 996.1 829.8 997.1 832.9 997.1C836.0 997.1 839.0 995.8 842.1 994.9C845.2 994.0 848.0 993.4 851.3 991.8C854.6 990.3 858.7 988.4 862.0 985.7C865.3 983.1 867.9 980.0 871.2 976.0C874.5 971.9 878.1 967.3 881.9 961.4C885.8 955.4 890.6 946.8 894.2 940.3C897.8 933.9 900.3 928.4 903.4 922.6C906.4 916.7 909.5 910.5 912.6 905.2C915.6 899.9 918.7 895.1 921.8 890.7C924.8 886.4 927.9 881.9 931.0 879.2C934.0 876.5 937.6 875.7 940.1 874.6C942.7 873.5 943.5 871.9 946.3 872.4C949.1 872.9 953.9 875.0 957.0 877.6C960.1 880.3 961.9 884.1 964.7 888.4C967.5 892.6 970.8 897.9 973.9 903.1C976.9 908.3 979.7 913.6 983.0 919.5C986.4 925.4 990.2 932.6 993.8 938.4C997.3 944.2 1000.9 949.6 1004.5 954.5C1008.1 959.3 1011.6 964.4 1015.2 967.3C1018.8 970.2 1022.6 971.3 1025.9 971.9C1029.3 972.6 1032.3 971.8 1035.1 971.3C1038.0 970.8 1040.2 970.0 1042.8 968.9C1045.4 967.7 1047.7 966.3 1050.5 964.3C1053.3 962.2 1056.6 958.9 1059.7 956.6C1062.7 954.3 1065.5 951.7 1068.8 950.5C1072.2 949.2 1077.4 949.1 1080.0 949.0C1082.6 948.9 1082.8 949.3 1084.5 949.9C1086.2 950.5 1088.1 950.9 1089.9 952.6C1091.7 954.3 1093.4 957.2 1095.2 959.9C1097.0 962.5 1098.8 965.3 1100.6 968.3C1102.4 971.3 1104.2 974.5 1106.0 977.7C1107.8 980.9 1109.8 984.5 1111.4 987.7C1113.1 990.8 1114.6 993.8 1115.9 996.6C1117.2 999.4 1118.2 1001.5 1119.5 1004.5C1120.8 1007.6 1122.5 1011.4 1123.9 1014.8C1125.4 1018.2 1126.9 1021.6 1128.4 1025.0C1129.9 1028.3 1131.4 1031.6 1132.9 1034.8C1134.4 1038.0 1135.9 1041.2 1137.3 1044.2C1138.8 1047.2 1140.2 1050.0 1141.7 1053.0C1143.2 1055.9 1144.7 1058.8 1146.3 1062.1C1147.9 1065.3 1149.7 1068.8 1151.5 1072.4C1153.3 1075.9 1155.2 1079.7 1157.0 1083.3C1158.9 1086.8 1160.7 1090.3 1162.5 1093.5C1164.3 1096.8 1166.1 1099.9 1167.9 1102.7C1169.7 1105.6 1171.5 1108.3 1173.2 1110.8C1175.0 1113.2 1176.7 1115.4 1178.3 1117.4C1179.9 1119.5 1181.3 1121.2 1182.7 1122.8C1184.1 1124.5 1186.0 1126.6 1186.7 1127.3" stroke="#f5584a"/>
<path d="M802.3 1043.9C804.3 1044.7 810.9 1047.0 814.5 1048.5C818.1 1050.1 820.6 1052.4 823.7 1053.1C826.8 1053.9 829.3 1053.4 832.9 1053.1C836.5 1052.9 841.3 1052.6 845.2 1051.6C849.0 1050.6 852.3 1048.8 855.9 1047.0C859.5 1045.2 863.3 1044.0 866.6 1040.9C869.9 1037.8 872.7 1032.8 875.8 1028.3C878.9 1023.8 881.9 1019.0 885.0 1013.9C888.1 1008.7 891.1 1003.0 894.2 997.3C897.2 991.6 900.3 985.4 903.4 979.7C906.4 973.9 909.5 968.0 912.6 962.8C915.6 957.7 918.7 953.0 921.8 948.9C924.8 944.8 927.9 940.8 931.0 938.2C934.0 935.7 937.6 934.9 940.1 933.6C942.7 932.3 943.5 930.0 946.3 930.6C949.1 931.1 953.9 933.8 957.0 936.7C960.1 939.6 961.9 943.5 964.7 947.9C967.5 952.3 970.8 957.8 973.9 963.1C976.9 968.4 979.7 973.7 983.0 979.6C986.4 985.5 990.2 992.6 993.8 998.6C997.3 1004.5 1000.9 1010.2 1004.5 1015.5C1008.1 1020.8 1011.6 1027.2 1015.2 1030.1C1018.8 1033.1 1022.6 1032.9 1025.9 1033.2C1029.3 1033.6 1032.3 1033.1 1035.1 1032.3C1038.0 1031.5 1040.2 1030.0 1042.8 1028.6C1045.4 1027.2 1047.7 1026.1 1050.5 1024.0C1053.3 1022.0 1056.6 1018.7 1059.7 1016.4C1062.7 1014.1 1065.5 1011.4 1068.8 1010.2C1072.2 1009.1 1077.4 1009.5 1080.0 1009.5C1082.6 1009.5 1082.8 1009.8 1084.5 1010.4C1086.2 1011.0 1088.1 1011.4 1089.9 1013.1C1091.7 1014.8 1093.4 1018.0 1095.2 1020.7C1097.0 1023.4 1098.8 1026.3 1100.6 1029.3C1102.4 1032.3 1104.2 1035.5 1106.0 1038.7C1107.8 1041.9 1109.8 1045.5 1111.4 1048.4C1113.1 1051.4 1114.8 1054.6 1115.9 1056.6C1117.0 1058.7 1116.6 1057.8 1117.9 1060.6C1119.2 1063.4 1121.8 1069.1 1123.7 1073.3C1125.6 1077.5 1127.4 1081.7 1129.3 1085.9C1131.1 1090.0 1132.9 1094.1 1134.7 1098.1C1136.5 1102.1 1138.3 1106.0 1140.1 1109.9C1141.9 1113.7 1143.7 1117.5 1145.5 1121.2C1147.3 1124.8 1149.1 1128.4 1150.9 1131.7C1152.7 1135.1 1154.4 1138.4 1156.2 1141.4C1158.0 1144.5 1159.8 1147.4 1161.6 1150.1C1163.4 1152.8 1165.2 1155.3 1167.0 1157.7C1168.8 1160.1 1170.6 1162.3 1172.4 1164.5C1174.2 1166.7 1176.0 1168.8 1177.7 1170.9C1179.3 1172.9 1180.9 1175.0 1182.5 1176.9C1184.0 1178.8 1186.0 1181.6 1186.7 1182.5" stroke="#f5584a"/>
<path d="M802.3 1102.2C803.8 1103.2 808.4 1106.9 811.4 1108.3C814.5 1109.7 817.6 1109.7 820.6 1110.4C823.7 1111.2 826.8 1112.6 829.8 1112.9C832.9 1113.2 836.0 1112.3 839.0 1112.3C842.1 1112.3 845.2 1113.5 848.2 1112.9C851.3 1112.2 854.3 1109.6 857.4 1108.3C860.5 1107.0 863.5 1107.8 866.6 1105.2C869.7 1102.6 872.7 1097.2 875.8 1092.7C878.9 1088.2 881.9 1083.4 885.0 1078.3C888.1 1073.2 891.1 1067.7 894.2 1062.2C897.2 1056.8 900.3 1051.0 903.4 1045.6C906.4 1040.1 909.5 1034.6 912.6 1029.7C915.6 1024.8 918.7 1020.2 921.8 1016.3C924.8 1012.3 927.9 1009.2 931.0 1006.1C934.0 1003.1 937.6 999.8 940.1 998.0C942.7 996.1 943.7 994.5 946.3 994.9C948.8 995.3 952.4 998.6 955.5 1000.4C958.5 1002.2 961.6 1002.3 964.7 1005.6C967.7 1009.0 970.8 1015.4 973.9 1020.6C976.9 1025.7 979.7 1030.7 983.0 1036.6C986.4 1042.5 990.2 1049.6 993.8 1055.9C997.3 1062.1 1000.7 1067.9 1004.5 1074.0C1008.3 1080.2 1013.2 1089.6 1016.8 1093.0C1020.3 1096.4 1022.9 1094.7 1025.9 1094.5C1029.0 1094.3 1032.1 1093.3 1035.1 1092.0C1038.2 1090.8 1041.3 1088.7 1044.3 1086.8C1047.4 1084.9 1050.5 1082.5 1053.5 1080.7C1056.6 1078.9 1059.7 1077.6 1062.7 1076.1C1065.8 1074.6 1069.0 1072.3 1071.9 1071.5C1074.8 1070.7 1077.8 1070.9 1080.0 1071.2C1082.2 1071.5 1083.6 1072.5 1085.4 1073.5C1087.2 1074.5 1089.0 1075.2 1090.8 1077.0C1092.6 1078.8 1094.3 1081.5 1096.1 1084.0C1097.9 1086.6 1099.7 1089.3 1101.5 1092.2C1103.3 1095.2 1105.1 1098.4 1106.9 1101.8C1108.7 1105.2 1110.7 1109.1 1112.3 1112.6C1113.9 1116.0 1115.4 1119.3 1116.8 1122.5C1118.2 1125.7 1119.4 1128.6 1120.7 1131.9C1122.1 1135.1 1123.5 1138.5 1124.9 1141.9C1126.3 1145.3 1127.8 1148.8 1129.3 1152.1C1130.8 1155.4 1132.3 1158.6 1133.8 1161.8C1135.3 1165.0 1136.8 1168.0 1138.5 1171.3C1140.2 1174.6 1142.0 1178.0 1143.9 1181.5C1145.8 1185.1 1148.0 1189.0 1150.0 1192.6C1152.1 1196.1 1154.1 1199.7 1156.0 1202.9C1158.0 1206.1 1159.8 1209.0 1161.6 1211.7C1163.4 1214.5 1165.2 1216.9 1167.1 1219.3C1168.9 1221.7 1170.8 1223.9 1172.6 1226.0C1174.4 1228.0 1176.3 1229.9 1178.0 1231.6C1179.7 1233.2 1181.2 1234.7 1182.7 1236.0C1184.1 1237.3 1186.0 1238.7 1186.7 1239.2" stroke="#f5022c"/>
<path d="M802.3 1160.4C803.8 1161.4 808.4 1165.0 811.4 1166.5C814.5 1168.0 817.6 1168.6 820.6 1169.6C823.7 1170.6 826.8 1172.1 829.8 1172.6C832.9 1173.1 836.0 1172.9 839.0 1172.6C842.1 1172.4 845.2 1171.9 848.2 1171.1C851.3 1170.3 854.3 1169.1 857.4 1168.0C860.5 1167.0 863.5 1167.5 866.6 1165.0C869.7 1162.5 872.7 1157.2 875.8 1152.9C878.9 1148.6 881.9 1144.0 885.0 1139.1C888.1 1134.2 891.1 1128.8 894.2 1123.4C897.2 1118.1 900.3 1112.3 903.4 1106.9C906.4 1101.6 909.5 1096.2 912.6 1091.1C915.6 1085.9 918.7 1079.6 921.8 1076.1C924.8 1072.6 927.9 1072.0 931.0 1070.0C934.0 1067.9 937.6 1065.4 940.1 1063.9C942.7 1062.3 943.7 1060.3 946.3 1060.8C948.8 1061.3 952.4 1064.9 955.5 1066.9C958.5 1069.0 961.6 1069.5 964.7 1073.0C967.7 1076.6 970.8 1082.9 973.9 1088.0C976.9 1093.1 979.7 1098.1 983.0 1103.9C986.4 1109.7 990.2 1116.7 993.8 1122.6C997.3 1128.5 1000.7 1133.8 1004.5 1139.4C1008.3 1144.9 1013.2 1152.8 1016.8 1155.8C1020.3 1158.8 1022.9 1157.6 1025.9 1157.3C1029.0 1157.1 1032.1 1155.6 1035.1 1154.3C1038.2 1152.9 1041.3 1150.8 1044.3 1149.0C1047.4 1147.3 1050.5 1145.2 1053.5 1143.5C1056.6 1141.8 1059.7 1140.4 1062.7 1138.9C1065.8 1137.5 1069.0 1135.4 1071.9 1134.9C1074.8 1134.5 1077.9 1135.7 1080.0 1136.2C1082.1 1136.7 1082.8 1136.8 1084.5 1138.0C1086.2 1139.2 1088.1 1141.4 1089.9 1143.3C1091.7 1145.3 1093.4 1147.3 1095.2 1149.6C1097.0 1152.0 1098.8 1154.8 1100.6 1157.7C1102.4 1160.6 1104.3 1164.1 1106.0 1167.1C1107.7 1170.0 1109.3 1173.3 1110.5 1175.5C1111.7 1177.7 1111.5 1177.3 1113.0 1180.5C1114.5 1183.6 1117.5 1190.0 1119.5 1194.3C1121.5 1198.7 1123.1 1202.3 1124.8 1206.4C1126.6 1210.4 1128.4 1214.6 1130.2 1218.6C1132.0 1222.6 1133.8 1226.5 1135.6 1230.2C1137.4 1234.0 1139.2 1237.5 1141.0 1241.0C1142.8 1244.4 1144.6 1247.6 1146.4 1250.7C1148.2 1253.7 1149.9 1256.6 1151.7 1259.3C1153.5 1262.0 1155.3 1264.5 1157.1 1266.8C1158.9 1269.2 1160.7 1271.3 1162.5 1273.3C1164.3 1275.3 1166.1 1277.1 1167.9 1278.9C1169.7 1280.6 1171.5 1282.2 1173.2 1283.8C1175.0 1285.3 1176.7 1286.7 1178.3 1288.0C1179.9 1289.4 1181.3 1290.6 1182.7 1291.7C1184.1 1292.8 1186.0 1294.3 1186.7 1294.8" stroke="#f5022c"/>
</g>
<g stroke="#000" stroke-width="2" stroke-dasharray="8 6" fill="none">
<path d="M178.6 189V969.5"/><path d="M318 118V1104.5"/>
<path d="M959.5 118V1104"/><path d="M1078.7 113.5V1201.5"/>
</g>
<g fill="none" stroke="#000">
<rect x="8" y="64.3" width="565.4" height="1242" stroke-width="4.4"/>
<rect x="766.4" y="64.6" width="569.6" height="1250.6" stroke-width="4.6"/>
<path d="M127.5 1282V1306M277 1282V1306M427 1282V1306" stroke-width="4"/>
<path d="M886.5 1291V1315M1037.2 1291V1315M1187.8 1291V1315" stroke-width="4.4"/>
</g>
<path d="M484.8 381.3 H507.2 V1194.0 H518.5 L496.0 1216.0 L473.5 1194.0 H484.8 Z" fill="url(#cb)" stroke="#1a1a00" stroke-width="1" stroke-linejoin="miter"/>
<path d="M1241.3 223.4 H1263.7 V1191.3 H1275.0 L1252.5 1213.8 L1230.0 1191.3 H1241.3 Z" fill="url(#cb)" stroke="#1a1a00" stroke-width="1" stroke-linejoin="miter"/>
<text transform="translate(126.0 32.6) scale(1.056 1)" font-size="39.5" text-anchor="start" font-family="Liberation Sans, Arial, Helvetica, sans-serif" fill="#000">r = 5.0 nm (Fig.3d)</text>
<text transform="translate(968.6 32.6) scale(1.060 1)" font-size="39.5" text-anchor="start" font-family="Liberation Sans, Arial, Helvetica, sans-serif" fill="#000">r = 6.8 nm</text>
<text transform="translate(122.0 1359.4) scale(1.025 1)" font-size="41.5" text-anchor="middle" font-family="Liberation Sans, Arial, Helvetica, sans-serif" fill="#000">-50</text>
<text transform="translate(275.6 1359.4) scale(1.025 1)" font-size="41.5" text-anchor="middle" font-family="Liberation Sans, Arial, Helvetica, sans-serif" fill="#000">0</text>
<text transform="translate(422.2 1359.4) scale(1.025 1)" font-size="41.5" text-anchor="middle" font-family="Liberation Sans, Arial, Helvetica, sans-serif" fill="#000">50</text>
<text transform="translate(883.0 1360.6) scale(1.025 1)" font-size="41.5" text-anchor="middle" font-family="Liberation Sans, Arial, Helvetica, sans-serif" fill="#000">-50</text>
<text transform="translate(1035.9 1360.6) scale(1.025 1)" font-size="41.5" text-anchor="middle" font-family="Liberation Sans, Arial, Helvetica, sans-serif" fill="#000">0</text>
<text transform="translate(1187.1 1360.6) scale(1.025 1)" font-size="41.5" text-anchor="middle" font-family="Liberation Sans, Arial, Helvetica, sans-serif" fill="#000">50</text>
<text transform="translate(294.8 1423.6) scale(1.065 1)" font-size="39.8" text-anchor="middle" font-family="Liberation Sans, Arial, Helvetica, sans-serif" fill="#000">Bias (mV)</text>
<text transform="translate(1067.0 1423.6) scale(1.065 1)" font-size="39.8" text-anchor="middle" font-family="Liberation Sans, Arial, Helvetica, sans-serif" fill="#000">Bias (mV)</text>
<text transform="translate(500.7 303.0) scale(1.075 1)" font-size="40.0" text-anchor="middle" font-family="Liberation Sans, Arial, Helvetica, sans-serif" fill="#000">r (nm)</text>
<text transform="translate(494.2 361.9) scale(1.030 1)" font-size="38.5" text-anchor="middle" font-family="Liberation Sans, Arial, Helvetica, sans-serif" fill="#000">0</text>
<text transform="translate(495.0 1271.3) scale(1.050 1)" font-size="41.0" text-anchor="middle" font-family="Liberation Sans, Arial, Helvetica, sans-serif" fill="#000">5</text>
<text transform="translate(1256.2 154.3) scale(1.065 1)" font-size="40.5" text-anchor="middle" font-family="Liberation Sans, Arial, Helvetica, sans-serif" fill="#000">r (nm)</text>
<text transform="translate(1260.0 207.3) scale(1.080 1)" font-size="40.5" text-anchor="middle" font-family="Liberation Sans, Arial, Helvetica, sans-serif" fill="#000">0</text>
<text transform="translate(1252.0 1279.1) scale(1.030 1)" font-size="41.5" text-anchor="middle" font-family="Liberation Sans, Arial, Helvetica, sans-serif" fill="#000">6.8</text>
</svg></body></html>
